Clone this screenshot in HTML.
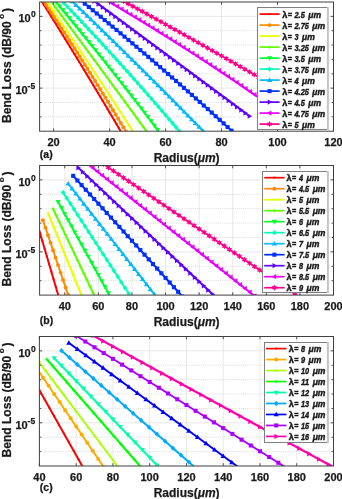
<!DOCTYPE html>
<html><head><meta charset="utf-8"><style>
html,body{margin:0;padding:0;background:#fff;}
svg{display:block;will-change:transform;}
text{font-family:"Liberation Sans",sans-serif;font-weight:bold;fill:#1a1a1a;stroke:#1a1a1a;stroke-width:0.25px;}
.tk{font-size:11px;}
.sup{font-size:8.5px;}
.lg{font-size:8.2px;font-style:italic;stroke-width:0.4px;}
.lgl{font-size:8.2px;stroke-width:0.4px;}
.al{font-size:12px;}
.pl{font-size:10.5px;}
</style></head><body>
<svg width="342" height="499" viewBox="0 0 342 499">
<clipPath id="ca"><rect x="39.60" y="2.00" width="293.90" height="129.20"/></clipPath>
<line x1="53.60" y1="2.00" x2="53.60" y2="131.20" stroke="#e2e2e2" stroke-width="0.8"/>
<line x1="109.58" y1="2.00" x2="109.58" y2="131.20" stroke="#e2e2e2" stroke-width="0.8"/>
<line x1="165.56" y1="2.00" x2="165.56" y2="131.20" stroke="#e2e2e2" stroke-width="0.8"/>
<line x1="221.54" y1="2.00" x2="221.54" y2="131.20" stroke="#e2e2e2" stroke-width="0.8"/>
<line x1="277.52" y1="2.00" x2="277.52" y2="131.20" stroke="#e2e2e2" stroke-width="0.8"/>
<line x1="39.60" y1="16.36" x2="333.50" y2="16.36" stroke="#e2e2e2" stroke-width="0.8"/>
<line x1="39.60" y1="30.71" x2="333.50" y2="30.71" stroke="#c8c8c8" stroke-width="0.8" stroke-dasharray="0.8 1.3"/>
<line x1="39.60" y1="45.07" x2="333.50" y2="45.07" stroke="#c8c8c8" stroke-width="0.8" stroke-dasharray="0.8 1.3"/>
<line x1="39.60" y1="59.42" x2="333.50" y2="59.42" stroke="#c8c8c8" stroke-width="0.8" stroke-dasharray="0.8 1.3"/>
<line x1="39.60" y1="73.78" x2="333.50" y2="73.78" stroke="#c8c8c8" stroke-width="0.8" stroke-dasharray="0.8 1.3"/>
<line x1="39.60" y1="88.13" x2="333.50" y2="88.13" stroke="#e2e2e2" stroke-width="0.8"/>
<line x1="39.60" y1="102.49" x2="333.50" y2="102.49" stroke="#c8c8c8" stroke-width="0.8" stroke-dasharray="0.8 1.3"/>
<line x1="39.60" y1="116.84" x2="333.50" y2="116.84" stroke="#c8c8c8" stroke-width="0.8" stroke-dasharray="0.8 1.3"/>
<g clip-path="url(#ca)"><polyline points="39.60,-2.05 39.63,-2.00 40.89,0.00 42.14,2.00 43.40,4.00 44.65,6.00 45.91,8.00 47.16,10.00 48.41,12.00 49.66,14.00 50.91,16.00 52.16,18.00 53.40,20.00 54.65,22.00 55.89,24.00 57.13,26.00 58.37,28.00 59.61,30.00 60.85,32.00 62.09,34.00 63.32,36.00 64.56,38.00 65.79,40.00 67.02,42.00 68.25,44.00 69.48,46.00 70.71,48.00 71.94,50.00 73.16,52.00 74.39,54.00 75.61,56.00 76.83,58.00 78.05,60.00 79.27,62.00 80.49,64.00 81.70,66.00 82.92,68.00 84.13,70.00 85.35,72.00 86.56,74.00 87.77,76.00 88.98,78.00 90.18,80.00 91.39,82.00 92.60,84.00 93.80,86.00 95.00,88.00 96.20,90.00 97.40,92.00 98.60,94.00 99.80,96.00 101.00,98.00 102.19,100.00 103.39,102.00 104.58,104.00 105.77,106.00 106.96,108.00 108.15,110.00 109.34,112.00 110.52,114.00 111.71,116.00 112.89,118.00 114.07,120.00 115.25,122.00 116.43,124.00 117.61,126.00 118.79,128.00 119.97,130.00 121.14,132.00 122.31,134.00 123.49,136.00 124.66,138.00 125.83,140.00 127.00,142.00 128.16,144.00 129.33,146.00 130.49,148.00 131.66,150.00 137.57,160.19" stroke="#ff0000" stroke-width="2.0" fill="none" stroke-linejoin="round"/><circle cx="41.93" cy="1.66" r="1.08" fill="#ff0000"/><circle cx="44.27" cy="5.38" r="1.08" fill="#ff0000"/><circle cx="46.60" cy="9.10" r="1.08" fill="#ff0000"/><circle cx="48.93" cy="12.83" r="1.08" fill="#ff0000"/><circle cx="51.26" cy="16.57" r="1.08" fill="#ff0000"/><circle cx="53.60" cy="20.31" r="1.08" fill="#ff0000"/><circle cx="55.93" cy="24.06" r="1.08" fill="#ff0000"/><circle cx="58.26" cy="27.82" r="1.08" fill="#ff0000"/><circle cx="60.59" cy="31.59" r="1.08" fill="#ff0000"/><circle cx="62.93" cy="35.36" r="1.08" fill="#ff0000"/><circle cx="65.26" cy="39.14" r="1.08" fill="#ff0000"/><circle cx="67.59" cy="42.93" r="1.08" fill="#ff0000"/><circle cx="69.92" cy="46.72" r="1.08" fill="#ff0000"/><circle cx="72.26" cy="50.52" r="1.08" fill="#ff0000"/><circle cx="74.59" cy="54.33" r="1.08" fill="#ff0000"/><circle cx="76.92" cy="58.15" r="1.08" fill="#ff0000"/><circle cx="79.25" cy="61.97" r="1.08" fill="#ff0000"/><circle cx="81.59" cy="65.81" r="1.08" fill="#ff0000"/><circle cx="83.92" cy="69.65" r="1.08" fill="#ff0000"/><circle cx="86.25" cy="73.49" r="1.08" fill="#ff0000"/><circle cx="88.58" cy="77.35" r="1.08" fill="#ff0000"/><circle cx="90.92" cy="81.21" r="1.08" fill="#ff0000"/><circle cx="93.25" cy="85.08" r="1.08" fill="#ff0000"/><circle cx="95.58" cy="88.96" r="1.08" fill="#ff0000"/><circle cx="97.91" cy="92.85" r="1.08" fill="#ff0000"/><circle cx="100.25" cy="96.74" r="1.08" fill="#ff0000"/><circle cx="102.58" cy="100.65" r="1.08" fill="#ff0000"/><circle cx="104.91" cy="104.56" r="1.08" fill="#ff0000"/><circle cx="107.24" cy="108.48" r="1.08" fill="#ff0000"/><circle cx="109.58" cy="112.41" r="1.08" fill="#ff0000"/><circle cx="111.91" cy="116.34" r="1.08" fill="#ff0000"/><circle cx="114.24" cy="120.28" r="1.08" fill="#ff0000"/><circle cx="116.57" cy="124.24" r="1.08" fill="#ff0000"/><circle cx="118.91" cy="128.20" r="1.08" fill="#ff0000"/><circle cx="121.24" cy="132.17" r="1.08" fill="#ff0000"/><polyline points="43.80,1.05 44.43,2.00 45.75,4.00 47.07,6.00 48.38,8.00 49.70,10.00 51.01,12.00 52.32,14.00 53.63,16.00 54.93,18.00 56.24,20.00 57.54,22.00 58.84,24.00 60.14,26.00 61.44,28.00 62.73,30.00 64.02,32.00 65.31,34.00 66.60,36.00 67.89,38.00 69.18,40.00 70.46,42.00 71.74,44.00 73.02,46.00 74.30,48.00 75.57,50.00 76.85,52.00 78.12,54.00 79.39,56.00 80.66,58.00 81.92,60.00 83.19,62.00 84.45,64.00 85.71,66.00 86.97,68.00 88.23,70.00 89.48,72.00 90.74,74.00 91.99,76.00 93.24,78.00 94.48,80.00 95.73,82.00 96.97,84.00 98.21,86.00 99.45,88.00 100.69,90.00 101.93,92.00 103.16,94.00 104.39,96.00 105.62,98.00 106.85,100.00 108.08,102.00 109.30,104.00 110.52,106.00 111.75,108.00 112.96,110.00 114.18,112.00 115.40,114.00 116.61,116.00 117.82,118.00 119.03,120.00 120.24,122.00 121.44,124.00 122.65,126.00 123.85,128.00 125.05,130.00 126.24,132.00 127.44,134.00 128.63,136.00 129.83,138.00 131.02,140.00 132.20,142.00 133.39,144.00 134.58,146.00 135.76,148.00 136.94,150.00 151.56,175.04" stroke="#ff8b00" stroke-width="2.0" fill="none" stroke-linejoin="round"/><circle cx="43.80" cy="1.05" r="1.97" fill="#ff8b00"/><circle cx="46.36" cy="4.94" r="1.97" fill="#ff8b00"/><circle cx="48.93" cy="8.83" r="1.97" fill="#ff8b00"/><circle cx="51.50" cy="12.75" r="1.97" fill="#ff8b00"/><circle cx="54.06" cy="16.67" r="1.97" fill="#ff8b00"/><circle cx="56.63" cy="20.60" r="1.97" fill="#ff8b00"/><circle cx="59.19" cy="24.54" r="1.97" fill="#ff8b00"/><circle cx="61.76" cy="28.50" r="1.97" fill="#ff8b00"/><circle cx="64.32" cy="32.47" r="1.97" fill="#ff8b00"/><circle cx="66.89" cy="36.45" r="1.97" fill="#ff8b00"/><circle cx="69.46" cy="40.44" r="1.97" fill="#ff8b00"/><circle cx="72.02" cy="44.44" r="1.97" fill="#ff8b00"/><circle cx="74.59" cy="48.45" r="1.97" fill="#ff8b00"/><circle cx="77.15" cy="52.48" r="1.97" fill="#ff8b00"/><circle cx="79.72" cy="56.52" r="1.97" fill="#ff8b00"/><circle cx="82.29" cy="60.57" r="1.97" fill="#ff8b00"/><circle cx="84.85" cy="64.63" r="1.97" fill="#ff8b00"/><circle cx="87.42" cy="68.71" r="1.97" fill="#ff8b00"/><circle cx="89.98" cy="72.80" r="1.97" fill="#ff8b00"/><circle cx="92.55" cy="76.90" r="1.97" fill="#ff8b00"/><circle cx="95.11" cy="81.01" r="1.97" fill="#ff8b00"/><circle cx="97.68" cy="85.14" r="1.97" fill="#ff8b00"/><circle cx="100.25" cy="89.28" r="1.97" fill="#ff8b00"/><circle cx="102.81" cy="93.43" r="1.97" fill="#ff8b00"/><circle cx="105.38" cy="97.60" r="1.97" fill="#ff8b00"/><circle cx="107.94" cy="101.78" r="1.97" fill="#ff8b00"/><circle cx="110.51" cy="105.97" r="1.97" fill="#ff8b00"/><circle cx="113.07" cy="110.18" r="1.97" fill="#ff8b00"/><circle cx="115.64" cy="114.40" r="1.97" fill="#ff8b00"/><circle cx="118.21" cy="118.64" r="1.97" fill="#ff8b00"/><circle cx="120.77" cy="122.89" r="1.97" fill="#ff8b00"/><circle cx="123.34" cy="127.15" r="1.97" fill="#ff8b00"/><circle cx="125.90" cy="131.43" r="1.97" fill="#ff8b00"/><polyline points="48.00,3.11 48.61,4.00 49.98,6.00 51.35,8.00 52.72,10.00 54.09,12.00 55.45,14.00 56.82,16.00 58.18,18.00 59.54,20.00 60.90,22.00 62.26,24.00 63.61,26.00 64.97,28.00 66.32,30.00 67.67,32.00 69.02,34.00 70.37,36.00 71.72,38.00 73.06,40.00 74.40,42.00 75.75,44.00 77.09,46.00 78.42,48.00 79.76,50.00 81.10,52.00 82.43,54.00 83.76,56.00 85.09,58.00 86.42,60.00 87.75,62.00 89.07,64.00 90.40,66.00 91.72,68.00 93.04,70.00 94.36,72.00 95.68,74.00 96.99,76.00 98.31,78.00 99.62,80.00 100.93,82.00 102.24,84.00 103.55,86.00 104.85,88.00 106.16,90.00 107.46,92.00 108.76,94.00 110.06,96.00 111.36,98.00 112.66,100.00 113.95,102.00 115.24,104.00 116.54,106.00 117.83,108.00 119.12,110.00 120.40,112.00 121.69,114.00 122.97,116.00 124.25,118.00 125.53,120.00 126.81,122.00 128.09,124.00 129.37,126.00 130.64,128.00 131.91,130.00 133.18,132.00 134.45,134.00 135.72,136.00 136.99,138.00 138.25,140.00 139.51,142.00 140.77,144.00 142.03,146.00 143.29,148.00 144.55,150.00 165.56,183.83" stroke="#e8ff00" stroke-width="2.0" fill="none" stroke-linejoin="round"/><path d="M46.68 1.79L49.32 4.43M46.68 4.43L49.32 1.79" stroke="#e8ff00" stroke-width="0.9" fill="none"/><path d="M49.48 5.87L52.12 8.51M49.48 8.51L52.12 5.87" stroke="#e8ff00" stroke-width="0.9" fill="none"/><path d="M52.28 9.96L54.92 12.60M52.28 12.60L54.92 9.96" stroke="#e8ff00" stroke-width="0.9" fill="none"/><path d="M55.07 14.06L57.71 16.70M55.07 16.70L57.71 14.06" stroke="#e8ff00" stroke-width="0.9" fill="none"/><path d="M57.87 18.17L60.51 20.81M57.87 20.81L60.51 18.17" stroke="#e8ff00" stroke-width="0.9" fill="none"/><path d="M60.67 22.29L63.31 24.93M60.67 24.93L63.31 22.29" stroke="#e8ff00" stroke-width="0.9" fill="none"/><path d="M63.47 26.42L66.11 29.06M63.47 29.06L66.11 26.42" stroke="#e8ff00" stroke-width="0.9" fill="none"/><path d="M66.27 30.56L68.91 33.20M66.27 33.20L68.91 30.56" stroke="#e8ff00" stroke-width="0.9" fill="none"/><path d="M69.07 34.71L71.71 37.35M69.07 37.35L71.71 34.71" stroke="#e8ff00" stroke-width="0.9" fill="none"/><path d="M71.87 38.87L74.51 41.51M71.87 41.51L74.51 38.87" stroke="#e8ff00" stroke-width="0.9" fill="none"/><path d="M74.67 43.04L77.31 45.68M74.67 45.68L77.31 43.04" stroke="#e8ff00" stroke-width="0.9" fill="none"/><path d="M77.47 47.22L80.11 49.86M77.47 49.86L80.11 47.22" stroke="#e8ff00" stroke-width="0.9" fill="none"/><path d="M80.27 51.42L82.91 54.06M80.27 54.06L82.91 51.42" stroke="#e8ff00" stroke-width="0.9" fill="none"/><path d="M83.06 55.62L85.70 58.26M83.06 58.26L85.70 55.62" stroke="#e8ff00" stroke-width="0.9" fill="none"/><path d="M85.86 59.83L88.50 62.47M85.86 62.47L88.50 59.83" stroke="#e8ff00" stroke-width="0.9" fill="none"/><path d="M88.66 64.06L91.30 66.70M88.66 66.70L91.30 64.06" stroke="#e8ff00" stroke-width="0.9" fill="none"/><path d="M91.46 68.29L94.10 70.93M91.46 70.93L94.10 68.29" stroke="#e8ff00" stroke-width="0.9" fill="none"/><path d="M94.26 72.54L96.90 75.18M94.26 75.18L96.90 72.54" stroke="#e8ff00" stroke-width="0.9" fill="none"/><path d="M97.06 76.79L99.70 79.43M97.06 79.43L99.70 76.79" stroke="#e8ff00" stroke-width="0.9" fill="none"/><path d="M99.86 81.06L102.50 83.70M99.86 83.70L102.50 81.06" stroke="#e8ff00" stroke-width="0.9" fill="none"/><path d="M102.66 85.34L105.30 87.98M102.66 87.98L105.30 85.34" stroke="#e8ff00" stroke-width="0.9" fill="none"/><path d="M105.46 89.63L108.10 92.27M105.46 92.27L108.10 89.63" stroke="#e8ff00" stroke-width="0.9" fill="none"/><path d="M108.26 93.93L110.90 96.57M108.26 96.57L110.90 93.93" stroke="#e8ff00" stroke-width="0.9" fill="none"/><path d="M111.06 98.25L113.70 100.89M111.06 100.89L113.70 98.25" stroke="#e8ff00" stroke-width="0.9" fill="none"/><path d="M113.85 102.57L116.49 105.21M113.85 105.21L116.49 102.57" stroke="#e8ff00" stroke-width="0.9" fill="none"/><path d="M116.65 106.91L119.29 109.55M116.65 109.55L119.29 106.91" stroke="#e8ff00" stroke-width="0.9" fill="none"/><path d="M119.45 111.26L122.09 113.90M119.45 113.90L122.09 111.26" stroke="#e8ff00" stroke-width="0.9" fill="none"/><path d="M122.25 115.62L124.89 118.26M122.25 118.26L124.89 115.62" stroke="#e8ff00" stroke-width="0.9" fill="none"/><path d="M125.05 119.99L127.69 122.63M125.05 122.63L127.69 119.99" stroke="#e8ff00" stroke-width="0.9" fill="none"/><path d="M127.85 124.37L130.49 127.01M127.85 127.01L130.49 124.37" stroke="#e8ff00" stroke-width="0.9" fill="none"/><path d="M130.65 128.77L133.29 131.41M130.65 131.41L133.29 128.77" stroke="#e8ff00" stroke-width="0.9" fill="none"/><path d="M133.45 133.18L136.09 135.82M133.45 135.82L136.09 133.18" stroke="#e8ff00" stroke-width="0.9" fill="none"/><polyline points="52.20,3.03 52.92,4.00 54.41,6.00 55.89,8.00 57.38,10.00 58.86,12.00 60.35,14.00 61.83,16.00 63.31,18.00 64.80,20.00 66.28,22.00 67.76,24.00 69.24,26.00 70.72,28.00 72.20,30.00 73.68,32.00 75.16,34.00 76.64,36.00 78.11,38.00 79.59,40.00 81.07,42.00 82.54,44.00 84.02,46.00 85.49,48.00 86.97,50.00 88.44,52.00 89.91,54.00 91.39,56.00 92.86,58.00 94.33,60.00 95.80,62.00 97.27,64.00 98.74,66.00 100.21,68.00 101.68,70.00 103.15,72.00 104.62,74.00 106.08,76.00 107.55,78.00 109.02,80.00 110.48,82.00 111.95,84.00 113.41,86.00 114.87,88.00 116.34,90.00 117.80,92.00 119.26,94.00 120.72,96.00 122.18,98.00 123.64,100.00 125.10,102.00 126.56,104.00 128.02,106.00 129.48,108.00 130.94,110.00 132.39,112.00 133.85,114.00 135.31,116.00 136.76,118.00 138.22,120.00 139.67,122.00 141.13,124.00 142.58,126.00 144.03,128.00 145.48,130.00 146.93,132.00 148.39,134.00 149.84,136.00 151.29,138.00 152.73,140.00 154.18,142.00 155.63,144.00 157.08,146.00 158.53,148.00 159.97,150.00 179.55,177.15" stroke="#5dff00" stroke-width="2.0" fill="none" stroke-linejoin="round"/><path d="M50.52 3.03L53.88 3.03M52.20 1.35L52.20 4.71" stroke="#5dff00" stroke-width="0.9" fill="none"/><path d="M53.55 7.11L56.91 7.11M55.23 5.43L55.23 8.79" stroke="#5dff00" stroke-width="0.9" fill="none"/><path d="M56.58 11.19L59.94 11.19M58.26 9.51L58.26 12.87" stroke="#5dff00" stroke-width="0.9" fill="none"/><path d="M59.61 15.28L62.97 15.28M61.29 13.60L61.29 16.96" stroke="#5dff00" stroke-width="0.9" fill="none"/><path d="M62.64 19.36L66.00 19.36M64.32 17.68L64.32 21.04" stroke="#5dff00" stroke-width="0.9" fill="none"/><path d="M65.68 23.46L69.04 23.46M67.36 21.78L67.36 25.14" stroke="#5dff00" stroke-width="0.9" fill="none"/><path d="M68.71 27.55L72.07 27.55M70.39 25.87L70.39 29.23" stroke="#5dff00" stroke-width="0.9" fill="none"/><path d="M71.74 31.65L75.10 31.65M73.42 29.97L73.42 33.33" stroke="#5dff00" stroke-width="0.9" fill="none"/><path d="M74.77 35.75L78.13 35.75M76.45 34.07L76.45 37.43" stroke="#5dff00" stroke-width="0.9" fill="none"/><path d="M77.81 39.86L81.17 39.86M79.49 38.18L79.49 41.54" stroke="#5dff00" stroke-width="0.9" fill="none"/><path d="M80.84 43.97L84.20 43.97M82.52 42.29L82.52 45.65" stroke="#5dff00" stroke-width="0.9" fill="none"/><path d="M83.87 48.08L87.23 48.08M85.55 46.40L85.55 49.76" stroke="#5dff00" stroke-width="0.9" fill="none"/><path d="M86.90 52.19L90.26 52.19M88.58 50.51L88.58 53.87" stroke="#5dff00" stroke-width="0.9" fill="none"/><path d="M89.94 56.31L93.30 56.31M91.62 54.63L91.62 57.99" stroke="#5dff00" stroke-width="0.9" fill="none"/><path d="M92.97 60.43L96.33 60.43M94.65 58.75L94.65 62.11" stroke="#5dff00" stroke-width="0.9" fill="none"/><path d="M96.00 64.56L99.36 64.56M97.68 62.88L97.68 66.24" stroke="#5dff00" stroke-width="0.9" fill="none"/><path d="M99.03 68.68L102.39 68.68M100.71 67.00L100.71 70.36" stroke="#5dff00" stroke-width="0.9" fill="none"/><path d="M102.06 72.81L105.42 72.81M103.74 71.13L103.74 74.49" stroke="#5dff00" stroke-width="0.9" fill="none"/><path d="M105.10 76.95L108.46 76.95M106.78 75.27L106.78 78.63" stroke="#5dff00" stroke-width="0.9" fill="none"/><path d="M108.13 81.08L111.49 81.08M109.81 79.40L109.81 82.76" stroke="#5dff00" stroke-width="0.9" fill="none"/><path d="M111.16 85.22L114.52 85.22M112.84 83.54L112.84 86.90" stroke="#5dff00" stroke-width="0.9" fill="none"/><path d="M114.19 89.37L117.55 89.37M115.87 87.69L115.87 91.05" stroke="#5dff00" stroke-width="0.9" fill="none"/><path d="M117.23 93.51L120.59 93.51M118.91 91.83L118.91 95.19" stroke="#5dff00" stroke-width="0.9" fill="none"/><path d="M120.26 97.66L123.62 97.66M121.94 95.98L121.94 99.34" stroke="#5dff00" stroke-width="0.9" fill="none"/><path d="M123.29 101.82L126.65 101.82M124.97 100.14L124.97 103.50" stroke="#5dff00" stroke-width="0.9" fill="none"/><path d="M126.32 105.97L129.68 105.97M128.00 104.29L128.00 107.65" stroke="#5dff00" stroke-width="0.9" fill="none"/><path d="M129.36 110.13L132.72 110.13M131.04 108.45L131.04 111.81" stroke="#5dff00" stroke-width="0.9" fill="none"/><path d="M132.39 114.30L135.75 114.30M134.07 112.62L134.07 115.98" stroke="#5dff00" stroke-width="0.9" fill="none"/><path d="M135.42 118.46L138.78 118.46M137.10 116.78L137.10 120.14" stroke="#5dff00" stroke-width="0.9" fill="none"/><path d="M138.45 122.63L141.81 122.63M140.13 120.95L140.13 124.31" stroke="#5dff00" stroke-width="0.9" fill="none"/><path d="M141.48 126.81L144.84 126.81M143.16 125.13L143.16 128.49" stroke="#5dff00" stroke-width="0.9" fill="none"/><path d="M144.52 130.98L147.88 130.98M146.20 129.30L146.20 132.66" stroke="#5dff00" stroke-width="0.9" fill="none"/><path d="M147.55 135.16L150.91 135.16M149.23 133.48L149.23 136.84" stroke="#5dff00" stroke-width="0.9" fill="none"/><polyline points="56.39,2.32 57.79,4.00 59.45,6.00 61.11,8.00 62.77,10.00 64.43,12.00 66.08,14.00 67.73,16.00 69.38,18.00 71.02,20.00 72.67,22.00 74.31,24.00 75.95,26.00 77.58,28.00 79.22,30.00 80.85,32.00 82.48,34.00 84.10,36.00 85.73,38.00 87.35,40.00 88.97,42.00 90.58,44.00 92.20,46.00 93.81,48.00 95.42,50.00 97.02,52.00 98.63,54.00 100.23,56.00 101.83,58.00 103.42,60.00 105.02,62.00 106.61,64.00 108.20,66.00 109.79,68.00 111.37,70.00 112.95,72.00 114.53,74.00 116.11,76.00 117.69,78.00 119.26,80.00 120.83,82.00 122.39,84.00 123.96,86.00 125.52,88.00 127.08,90.00 128.64,92.00 130.19,94.00 131.75,96.00 133.30,98.00 134.85,100.00 136.39,102.00 137.93,104.00 139.47,106.00 141.01,108.00 142.55,110.00 144.08,112.00 145.61,114.00 147.14,116.00 148.67,118.00 150.19,120.00 151.71,122.00 153.23,124.00 154.74,126.00 156.26,128.00 157.77,130.00 159.28,132.00 160.78,134.00 162.29,136.00 163.79,138.00 165.29,140.00 166.78,142.00 168.28,144.00 169.77,146.00 171.26,148.00 172.74,150.00 193.55,178.34" stroke="#00ff2e" stroke-width="2.0" fill="none" stroke-linejoin="round"/><path d="M53.75 0.48L59.03 0.48L56.39 4.96Z" fill="#00ff2e"/><path d="M57.02 4.40L62.30 4.40L59.66 8.89Z" fill="#00ff2e"/><path d="M60.29 8.34L65.57 8.34L62.93 12.83Z" fill="#00ff2e"/><path d="M63.55 12.29L68.83 12.29L66.19 16.78Z" fill="#00ff2e"/><path d="M66.82 16.25L72.10 16.25L69.46 20.74Z" fill="#00ff2e"/><path d="M70.08 20.22L75.36 20.22L72.72 24.71Z" fill="#00ff2e"/><path d="M73.35 24.20L78.63 24.20L75.99 28.69Z" fill="#00ff2e"/><path d="M76.61 28.20L81.89 28.20L79.25 32.69Z" fill="#00ff2e"/><path d="M79.88 32.21L85.16 32.21L82.52 36.69Z" fill="#00ff2e"/><path d="M83.14 36.22L88.42 36.22L85.78 40.71Z" fill="#00ff2e"/><path d="M86.41 40.26L91.69 40.26L89.05 44.74Z" fill="#00ff2e"/><path d="M89.68 44.30L94.96 44.30L92.32 48.79Z" fill="#00ff2e"/><path d="M92.94 48.36L98.22 48.36L95.58 52.84Z" fill="#00ff2e"/><path d="M96.21 52.43L101.49 52.43L98.85 56.91Z" fill="#00ff2e"/><path d="M99.47 56.51L104.75 56.51L102.11 61.00Z" fill="#00ff2e"/><path d="M102.74 60.60L108.02 60.60L105.38 65.09Z" fill="#00ff2e"/><path d="M106.00 64.71L111.28 64.71L108.64 69.20Z" fill="#00ff2e"/><path d="M109.27 68.83L114.55 68.83L111.91 73.32Z" fill="#00ff2e"/><path d="M112.53 72.96L117.81 72.96L115.17 77.45Z" fill="#00ff2e"/><path d="M115.80 77.11L121.08 77.11L118.44 81.60Z" fill="#00ff2e"/><path d="M119.07 81.27L124.35 81.27L121.71 85.76Z" fill="#00ff2e"/><path d="M122.33 85.45L127.61 85.45L124.97 89.93Z" fill="#00ff2e"/><path d="M125.60 89.63L130.88 89.63L128.24 94.12Z" fill="#00ff2e"/><path d="M128.86 93.84L134.14 93.84L131.50 98.32Z" fill="#00ff2e"/><path d="M132.13 98.05L137.41 98.05L134.77 102.54Z" fill="#00ff2e"/><path d="M135.39 102.28L140.67 102.28L138.03 106.77Z" fill="#00ff2e"/><path d="M138.66 106.52L143.94 106.52L141.30 111.01Z" fill="#00ff2e"/><path d="M141.92 110.78L147.20 110.78L144.56 115.27Z" fill="#00ff2e"/><path d="M145.19 115.06L150.47 115.06L147.83 119.54Z" fill="#00ff2e"/><path d="M148.46 119.34L153.74 119.34L151.10 123.83Z" fill="#00ff2e"/><path d="M151.72 123.65L157.00 123.65L154.36 128.13Z" fill="#00ff2e"/><path d="M154.99 127.96L160.27 127.96L157.63 132.45Z" fill="#00ff2e"/><path d="M158.25 132.30L163.53 132.30L160.89 136.78Z" fill="#00ff2e"/><polyline points="60.59,-0.41 60.98,0.00 62.90,2.00 64.81,4.00 66.72,6.00 68.62,8.00 70.52,10.00 72.42,12.00 74.32,14.00 76.21,16.00 78.10,18.00 79.98,20.00 81.86,22.00 83.74,24.00 85.61,26.00 87.48,28.00 89.35,30.00 91.21,32.00 93.07,34.00 94.93,36.00 96.78,38.00 98.63,40.00 100.48,42.00 102.32,44.00 104.16,46.00 106.00,48.00 107.83,50.00 109.66,52.00 111.48,54.00 113.31,56.00 115.13,58.00 116.94,60.00 118.75,62.00 120.56,64.00 122.36,66.00 124.17,68.00 125.96,70.00 127.76,72.00 129.55,74.00 131.34,76.00 133.12,78.00 134.90,80.00 136.68,82.00 138.45,84.00 140.22,86.00 141.99,88.00 143.75,90.00 145.51,92.00 147.27,94.00 149.02,96.00 150.77,98.00 152.52,100.00 154.26,102.00 156.00,104.00 157.73,106.00 159.46,108.00 161.19,110.00 162.92,112.00 164.64,114.00 166.36,116.00 168.07,118.00 169.78,120.00 171.49,122.00 173.20,124.00 174.90,126.00 176.59,128.00 178.29,130.00 179.98,132.00 181.67,134.00 183.35,136.00 185.03,138.00 186.71,140.00 188.38,142.00 190.05,144.00 191.72,146.00 193.38,148.00 195.04,150.00 207.54,165.21" stroke="#00ffb9" stroke-width="2.0" fill="none" stroke-linejoin="round"/><path d="M60.59 -3.05L62.87 -0.41L60.59 2.23L58.31 -0.41Z" fill="#00ffb9"/><path d="M64.09 0.61L66.37 3.25L64.09 5.89L61.81 3.25Z" fill="#00ffb9"/><path d="M67.59 4.28L69.87 6.92L67.59 9.56L65.31 6.92Z" fill="#00ffb9"/><path d="M71.09 7.95L73.37 10.59L71.09 13.23L68.81 10.59Z" fill="#00ffb9"/><path d="M74.59 11.65L76.87 14.29L74.59 16.93L72.31 14.29Z" fill="#00ffb9"/><path d="M78.09 15.35L80.37 17.99L78.09 20.63L75.81 17.99Z" fill="#00ffb9"/><path d="M81.59 19.07L83.87 21.71L81.59 24.35L79.31 21.71Z" fill="#00ffb9"/><path d="M85.08 22.80L87.36 25.44L85.08 28.08L82.80 25.44Z" fill="#00ffb9"/><path d="M88.58 26.54L90.86 29.18L88.58 31.82L86.30 29.18Z" fill="#00ffb9"/><path d="M92.08 30.29L94.36 32.93L92.08 35.57L89.80 32.93Z" fill="#00ffb9"/><path d="M95.58 34.06L97.86 36.70L95.58 39.34L93.30 36.70Z" fill="#00ffb9"/><path d="M99.08 37.84L101.36 40.48L99.08 43.12L96.80 40.48Z" fill="#00ffb9"/><path d="M102.58 41.64L104.86 44.28L102.58 46.92L100.30 44.28Z" fill="#00ffb9"/><path d="M106.08 45.45L108.36 48.09L106.08 50.73L103.80 48.09Z" fill="#00ffb9"/><path d="M109.58 49.27L111.86 51.91L109.58 54.55L107.30 51.91Z" fill="#00ffb9"/><path d="M113.07 53.11L115.35 55.75L113.07 58.39L110.79 55.75Z" fill="#00ffb9"/><path d="M116.57 56.96L118.85 59.60L116.57 62.24L114.29 59.60Z" fill="#00ffb9"/><path d="M120.07 60.82L122.35 63.46L120.07 66.10L117.79 63.46Z" fill="#00ffb9"/><path d="M123.57 64.70L125.85 67.34L123.57 69.98L121.29 67.34Z" fill="#00ffb9"/><path d="M127.07 68.59L129.35 71.23L127.07 73.87L124.79 71.23Z" fill="#00ffb9"/><path d="M130.57 72.50L132.85 75.14L130.57 77.78L128.29 75.14Z" fill="#00ffb9"/><path d="M134.07 76.42L136.35 79.06L134.07 81.70L131.79 79.06Z" fill="#00ffb9"/><path d="M137.57 80.36L139.85 83.00L137.57 85.64L135.29 83.00Z" fill="#00ffb9"/><path d="M141.07 84.31L143.35 86.95L141.07 89.59L138.79 86.95Z" fill="#00ffb9"/><path d="M144.56 88.28L146.84 90.92L144.56 93.56L142.28 90.92Z" fill="#00ffb9"/><path d="M148.06 92.27L150.34 94.91L148.06 97.55L145.78 94.91Z" fill="#00ffb9"/><path d="M151.56 96.27L153.84 98.91L151.56 101.55L149.28 98.91Z" fill="#00ffb9"/><path d="M155.06 100.28L157.34 102.92L155.06 105.56L152.78 102.92Z" fill="#00ffb9"/><path d="M158.56 104.31L160.84 106.95L158.56 109.59L156.28 106.95Z" fill="#00ffb9"/><path d="M162.06 108.36L164.34 111.00L162.06 113.64L159.78 111.00Z" fill="#00ffb9"/><path d="M165.56 112.43L167.84 115.07L165.56 117.71L163.28 115.07Z" fill="#00ffb9"/><path d="M169.06 116.51L171.34 119.15L169.06 121.79L166.78 119.15Z" fill="#00ffb9"/><path d="M172.55 120.61L174.83 123.25L172.55 125.89L170.27 123.25Z" fill="#00ffb9"/><path d="M176.05 124.72L178.33 127.36L176.05 130.00L173.77 127.36Z" fill="#00ffb9"/><path d="M179.55 128.86L181.83 131.50L179.55 134.14L177.27 131.50Z" fill="#00ffb9"/><polyline points="64.79,-5.67 66.54,-4.00 68.63,-2.00 70.72,0.00 72.81,2.00 74.89,4.00 76.97,6.00 79.05,8.00 81.13,10.00 83.21,12.00 85.28,14.00 87.36,16.00 89.43,18.00 91.49,20.00 93.56,22.00 95.62,24.00 97.69,26.00 99.75,28.00 101.81,30.00 103.86,32.00 105.92,34.00 107.97,36.00 110.02,38.00 112.07,40.00 114.11,42.00 116.16,44.00 118.20,46.00 120.24,48.00 122.28,50.00 124.31,52.00 126.35,54.00 128.38,56.00 130.41,58.00 132.44,60.00 134.46,62.00 136.48,64.00 138.51,66.00 140.53,68.00 142.54,70.00 144.56,72.00 146.57,74.00 148.58,76.00 150.59,78.00 152.60,80.00 154.61,82.00 156.61,84.00 158.61,86.00 160.61,88.00 162.61,90.00 164.60,92.00 166.60,94.00 168.59,96.00 170.58,98.00 172.56,100.00 174.55,102.00 176.53,104.00 178.51,106.00 180.49,108.00 182.47,110.00 184.44,112.00 186.42,114.00 188.39,116.00 190.36,118.00 192.32,120.00 194.29,122.00 196.25,124.00 198.21,126.00 200.17,128.00 202.13,130.00 204.08,132.00 206.04,134.00 207.99,136.00 209.93,138.00 211.88,140.00 213.83,142.00 215.77,144.00 217.71,146.00 219.65,148.00 221.54,149.95" stroke="#00b9ff" stroke-width="2.0" fill="none" stroke-linejoin="round"/><path d="M69.62 3.32L74.90 3.32L72.26 -1.17Z" fill="#00b9ff"/><path d="M73.35 6.90L78.63 6.90L75.99 2.41Z" fill="#00b9ff"/><path d="M77.08 10.49L82.36 10.49L79.72 6.00Z" fill="#00b9ff"/><path d="M80.81 14.08L86.09 14.08L83.45 9.59Z" fill="#00b9ff"/><path d="M84.54 17.68L89.82 17.68L87.18 13.19Z" fill="#00b9ff"/><path d="M88.28 21.29L93.56 21.29L90.92 16.80Z" fill="#00b9ff"/><path d="M92.01 24.90L97.29 24.90L94.65 20.41Z" fill="#00b9ff"/><path d="M95.74 28.52L101.02 28.52L98.38 24.03Z" fill="#00b9ff"/><path d="M99.47 32.15L104.75 32.15L102.11 27.66Z" fill="#00b9ff"/><path d="M103.20 35.78L108.48 35.78L105.84 31.29Z" fill="#00b9ff"/><path d="M106.94 39.42L112.22 39.42L109.58 34.93Z" fill="#00b9ff"/><path d="M110.67 43.06L115.95 43.06L113.31 38.57Z" fill="#00b9ff"/><path d="M114.40 46.71L119.68 46.71L117.04 42.23Z" fill="#00b9ff"/><path d="M118.13 50.37L123.41 50.37L120.77 45.88Z" fill="#00b9ff"/><path d="M121.86 54.04L127.14 54.04L124.50 49.55Z" fill="#00b9ff"/><path d="M125.60 57.71L130.88 57.71L128.24 53.22Z" fill="#00b9ff"/><path d="M129.33 61.39L134.61 61.39L131.97 56.90Z" fill="#00b9ff"/><path d="M133.06 65.07L138.34 65.07L135.70 60.58Z" fill="#00b9ff"/><path d="M136.79 68.77L142.07 68.77L139.43 64.28Z" fill="#00b9ff"/><path d="M140.52 72.46L145.80 72.46L143.16 67.98Z" fill="#00b9ff"/><path d="M144.26 76.17L149.54 76.17L146.90 71.68Z" fill="#00b9ff"/><path d="M147.99 79.88L153.27 79.88L150.63 75.39Z" fill="#00b9ff"/><path d="M151.72 83.60L157.00 83.60L154.36 79.11Z" fill="#00b9ff"/><path d="M155.45 87.33L160.73 87.33L158.09 82.84Z" fill="#00b9ff"/><path d="M159.19 91.06L164.47 91.06L161.83 86.58Z" fill="#00b9ff"/><path d="M162.92 94.80L168.20 94.80L165.56 90.32Z" fill="#00b9ff"/><path d="M166.65 98.55L171.93 98.55L169.29 94.07Z" fill="#00b9ff"/><path d="M170.38 102.31L175.66 102.31L173.02 97.82Z" fill="#00b9ff"/><path d="M174.11 106.07L179.39 106.07L176.75 101.58Z" fill="#00b9ff"/><path d="M177.85 109.84L183.13 109.84L180.49 105.35Z" fill="#00b9ff"/><path d="M181.58 113.62L186.86 113.62L184.22 109.13Z" fill="#00b9ff"/><path d="M185.31 117.40L190.59 117.40L187.95 112.91Z" fill="#00b9ff"/><path d="M189.04 121.19L194.32 121.19L191.68 116.71Z" fill="#00b9ff"/><path d="M192.77 124.99L198.05 124.99L195.41 120.51Z" fill="#00b9ff"/><path d="M196.51 128.80L201.79 128.80L199.15 124.31Z" fill="#00b9ff"/><path d="M200.24 132.62L205.52 132.62L202.88 128.13Z" fill="#00b9ff"/><path d="M203.97 136.44L209.25 136.44L206.61 131.95Z" fill="#00b9ff"/><polyline points="68.99,-9.25 70.53,-8.00 72.99,-6.00 75.44,-4.00 77.90,-2.00 80.34,0.00 82.79,2.00 85.23,4.00 87.67,6.00 90.10,8.00 92.53,10.00 94.95,12.00 97.37,14.00 99.79,16.00 102.20,18.00 104.61,20.00 107.01,22.00 109.41,24.00 111.81,26.00 114.20,28.00 116.59,30.00 118.97,32.00 121.35,34.00 123.73,36.00 126.10,38.00 128.47,40.00 130.83,42.00 133.19,44.00 135.55,46.00 137.90,48.00 140.25,50.00 142.59,52.00 144.93,54.00 147.26,56.00 149.59,58.00 151.92,60.00 154.24,62.00 156.56,64.00 158.88,66.00 161.19,68.00 163.50,70.00 165.80,72.00 168.10,74.00 170.39,76.00 172.68,78.00 174.97,80.00 177.25,82.00 179.53,84.00 181.81,86.00 184.08,88.00 186.34,90.00 188.61,92.00 190.86,94.00 193.12,96.00 195.37,98.00 197.61,100.00 199.86,102.00 202.09,104.00 204.33,106.00 206.56,108.00 208.78,110.00 211.01,112.00 213.22,114.00 215.44,116.00 217.65,118.00 219.85,120.00 222.06,122.00 224.25,124.00 226.45,126.00 228.64,128.00 230.82,130.00 233.00,132.00 235.18,134.00 235.53,134.33" stroke="#002eff" stroke-width="2.0" fill="none" stroke-linejoin="round"/><rect x="78.85" y="-1.60" width="4.08" height="4.08" fill="#002eff"/><rect x="82.81" y="1.65" width="4.08" height="4.08" fill="#002eff"/><rect x="86.78" y="4.91" width="4.08" height="4.08" fill="#002eff"/><rect x="90.74" y="8.17" width="4.08" height="4.08" fill="#002eff"/><rect x="94.71" y="11.44" width="4.08" height="4.08" fill="#002eff"/><rect x="98.67" y="14.73" width="4.08" height="4.08" fill="#002eff"/><rect x="102.64" y="18.02" width="4.08" height="4.08" fill="#002eff"/><rect x="106.60" y="21.32" width="4.08" height="4.08" fill="#002eff"/><rect x="110.57" y="24.63" width="4.08" height="4.08" fill="#002eff"/><rect x="114.53" y="27.95" width="4.08" height="4.08" fill="#002eff"/><rect x="118.50" y="31.28" width="4.08" height="4.08" fill="#002eff"/><rect x="122.46" y="34.61" width="4.08" height="4.08" fill="#002eff"/><rect x="126.43" y="37.96" width="4.08" height="4.08" fill="#002eff"/><rect x="130.40" y="41.32" width="4.08" height="4.08" fill="#002eff"/><rect x="134.36" y="44.69" width="4.08" height="4.08" fill="#002eff"/><rect x="138.33" y="48.06" width="4.08" height="4.08" fill="#002eff"/><rect x="142.29" y="51.45" width="4.08" height="4.08" fill="#002eff"/><rect x="146.26" y="54.85" width="4.08" height="4.08" fill="#002eff"/><rect x="150.22" y="58.25" width="4.08" height="4.08" fill="#002eff"/><rect x="154.19" y="61.67" width="4.08" height="4.08" fill="#002eff"/><rect x="158.15" y="65.10" width="4.08" height="4.08" fill="#002eff"/><rect x="162.12" y="68.53" width="4.08" height="4.08" fill="#002eff"/><rect x="166.08" y="71.98" width="4.08" height="4.08" fill="#002eff"/><rect x="170.05" y="75.44" width="4.08" height="4.08" fill="#002eff"/><rect x="174.01" y="78.91" width="4.08" height="4.08" fill="#002eff"/><rect x="177.98" y="82.39" width="4.08" height="4.08" fill="#002eff"/><rect x="181.94" y="85.88" width="4.08" height="4.08" fill="#002eff"/><rect x="185.91" y="89.38" width="4.08" height="4.08" fill="#002eff"/><rect x="189.87" y="92.89" width="4.08" height="4.08" fill="#002eff"/><rect x="193.84" y="96.42" width="4.08" height="4.08" fill="#002eff"/><rect x="197.81" y="99.95" width="4.08" height="4.08" fill="#002eff"/><rect x="201.77" y="103.50" width="4.08" height="4.08" fill="#002eff"/><rect x="205.74" y="107.05" width="4.08" height="4.08" fill="#002eff"/><rect x="209.70" y="110.62" width="4.08" height="4.08" fill="#002eff"/><rect x="213.67" y="114.20" width="4.08" height="4.08" fill="#002eff"/><rect x="217.63" y="117.80" width="4.08" height="4.08" fill="#002eff"/><rect x="221.60" y="121.40" width="4.08" height="4.08" fill="#002eff"/><rect x="225.56" y="125.02" width="4.08" height="4.08" fill="#002eff"/><rect x="229.53" y="128.64" width="4.08" height="4.08" fill="#002eff"/><rect x="233.49" y="132.29" width="4.08" height="4.08" fill="#002eff"/><polyline points="73.19,-14.57 73.95,-14.00 76.64,-12.00 79.33,-10.00 82.03,-8.00 84.72,-6.00 87.41,-4.00 90.10,-2.00 92.79,0.00 95.49,2.00 98.18,4.00 100.87,6.00 103.56,8.00 106.26,10.00 108.95,12.00 111.64,14.00 114.34,16.00 117.03,18.00 119.73,20.00 122.42,22.00 125.11,24.00 127.81,26.00 130.50,28.00 133.20,30.00 135.89,32.00 138.59,34.00 141.28,36.00 143.98,38.00 146.68,40.00 149.37,42.00 152.07,44.00 154.76,46.00 157.46,48.00 160.16,50.00 162.85,52.00 165.55,54.00 168.25,56.00 170.94,58.00 173.64,60.00 176.34,62.00 179.04,64.00 181.74,66.00 184.43,68.00 187.13,70.00 189.83,72.00 192.53,74.00 195.23,76.00 197.93,78.00 200.63,80.00 203.33,82.00 206.03,84.00 208.73,86.00 211.43,88.00 214.13,90.00 216.83,92.00 219.53,94.00 222.23,96.00 224.93,98.00 227.63,100.00 230.33,102.00 233.03,104.00 235.73,106.00 238.43,108.00 241.14,110.00 243.84,112.00 246.54,114.00 249.24,116.00 249.53,116.21" stroke="#5d00ff" stroke-width="2.0" fill="none" stroke-linejoin="round"/><path d="M92.33 -1.61L92.33 3.67L96.82 1.03Z" fill="#5d00ff"/><path d="M96.53 1.51L96.53 6.79L101.02 4.15Z" fill="#5d00ff"/><path d="M100.73 4.63L100.73 9.91L105.22 7.27Z" fill="#5d00ff"/><path d="M104.93 7.75L104.93 13.03L109.42 10.39Z" fill="#5d00ff"/><path d="M109.13 10.86L109.13 16.14L113.62 13.50Z" fill="#5d00ff"/><path d="M113.33 13.98L113.33 19.26L117.81 16.62Z" fill="#5d00ff"/><path d="M117.52 17.10L117.52 22.38L122.01 19.74Z" fill="#5d00ff"/><path d="M121.72 20.21L121.72 25.49L126.21 22.85Z" fill="#5d00ff"/><path d="M125.92 23.33L125.92 28.61L130.41 25.97Z" fill="#5d00ff"/><path d="M130.12 26.45L130.12 31.73L134.61 29.09Z" fill="#5d00ff"/><path d="M134.32 29.56L134.32 34.84L138.81 32.20Z" fill="#5d00ff"/><path d="M138.52 32.68L138.52 37.96L143.01 35.32Z" fill="#5d00ff"/><path d="M142.72 35.79L142.72 41.07L147.20 38.43Z" fill="#5d00ff"/><path d="M146.91 38.91L146.91 44.19L151.40 41.55Z" fill="#5d00ff"/><path d="M151.11 42.02L151.11 47.30L155.60 44.66Z" fill="#5d00ff"/><path d="M155.31 45.14L155.31 50.42L159.80 47.78Z" fill="#5d00ff"/><path d="M159.51 48.25L159.51 53.53L164.00 50.89Z" fill="#5d00ff"/><path d="M163.71 51.37L163.71 56.65L168.20 54.01Z" fill="#5d00ff"/><path d="M167.91 54.48L167.91 59.76L172.40 57.12Z" fill="#5d00ff"/><path d="M172.11 57.59L172.11 62.87L176.59 60.23Z" fill="#5d00ff"/><path d="M176.30 60.70L176.30 65.98L180.79 63.34Z" fill="#5d00ff"/><path d="M180.50 63.82L180.50 69.10L184.99 66.46Z" fill="#5d00ff"/><path d="M184.70 66.93L184.70 72.21L189.19 69.57Z" fill="#5d00ff"/><path d="M188.90 70.04L188.90 75.32L193.39 72.68Z" fill="#5d00ff"/><path d="M193.10 73.15L193.10 78.43L197.59 75.79Z" fill="#5d00ff"/><path d="M197.30 76.26L197.30 81.54L201.79 78.90Z" fill="#5d00ff"/><path d="M201.50 79.37L201.50 84.65L205.98 82.01Z" fill="#5d00ff"/><path d="M205.69 82.48L205.69 87.76L210.18 85.12Z" fill="#5d00ff"/><path d="M209.89 85.59L209.89 90.87L214.38 88.23Z" fill="#5d00ff"/><path d="M214.09 88.70L214.09 93.98L218.58 91.34Z" fill="#5d00ff"/><path d="M218.29 91.81L218.29 97.09L222.78 94.45Z" fill="#5d00ff"/><path d="M222.49 94.92L222.49 100.20L226.98 97.56Z" fill="#5d00ff"/><path d="M226.69 98.03L226.69 103.31L231.18 100.67Z" fill="#5d00ff"/><path d="M230.89 101.14L230.89 106.42L235.37 103.78Z" fill="#5d00ff"/><path d="M235.08 104.25L235.08 109.53L239.57 106.89Z" fill="#5d00ff"/><path d="M239.28 107.36L239.28 112.64L243.77 110.00Z" fill="#5d00ff"/><path d="M243.48 110.46L243.48 115.74L247.97 113.10Z" fill="#5d00ff"/><path d="M247.68 113.57L247.68 118.85L252.17 116.21Z" fill="#5d00ff"/><polyline points="77.39,-16.73 78.67,-16.00 82.17,-14.00 85.65,-12.00 89.12,-10.00 92.58,-8.00 96.03,-6.00 99.46,-4.00 102.89,-2.00 106.30,0.00 109.70,2.00 113.09,4.00 116.47,6.00 119.83,8.00 123.19,10.00 126.53,12.00 129.86,14.00 133.18,16.00 136.49,18.00 139.79,20.00 143.07,22.00 146.35,24.00 149.61,26.00 152.86,28.00 156.10,30.00 159.33,32.00 162.54,34.00 165.75,36.00 168.94,38.00 172.12,40.00 175.29,42.00 178.45,44.00 181.59,46.00 184.73,48.00 187.85,50.00 190.96,52.00 194.06,54.00 197.15,56.00 200.23,58.00 203.29,60.00 206.35,62.00 209.39,64.00 212.42,66.00 215.44,68.00 218.44,70.00 221.44,72.00 224.42,74.00 227.39,76.00 230.36,78.00 233.30,80.00 236.24,82.00 239.17,84.00 242.08,86.00 244.98,88.00 247.88,90.00 250.75,92.00 253.62,94.00 256.48,96.00 259.32,98.00 262.16,100.00 263.52,100.97" stroke="#e800ff" stroke-width="2.0" fill="none" stroke-linejoin="round"/><path d="M105.83 -4.00L105.83 1.28L101.34 -1.36Z" fill="#e800ff"/><path d="M110.26 -1.40L110.26 3.88L105.77 1.24Z" fill="#e800ff"/><path d="M114.69 1.21L114.69 6.49L110.20 3.85Z" fill="#e800ff"/><path d="M119.12 3.84L119.12 9.12L114.63 6.48Z" fill="#e800ff"/><path d="M123.55 6.47L123.55 11.75L119.07 9.11Z" fill="#e800ff"/><path d="M127.99 9.12L127.99 14.40L123.50 11.76Z" fill="#e800ff"/><path d="M132.42 11.78L132.42 17.06L127.93 14.42Z" fill="#e800ff"/><path d="M136.85 14.46L136.85 19.74L132.36 17.10Z" fill="#e800ff"/><path d="M141.28 17.14L141.28 22.42L136.79 19.78Z" fill="#e800ff"/><path d="M145.71 19.84L145.71 25.12L141.22 22.48Z" fill="#e800ff"/><path d="M150.14 22.55L150.14 27.83L145.66 25.19Z" fill="#e800ff"/><path d="M154.58 25.28L154.58 30.56L150.09 27.92Z" fill="#e800ff"/><path d="M159.01 28.02L159.01 33.30L154.52 30.66Z" fill="#e800ff"/><path d="M163.44 30.77L163.44 36.05L158.95 33.41Z" fill="#e800ff"/><path d="M167.87 33.53L167.87 38.81L163.38 36.17Z" fill="#e800ff"/><path d="M172.30 36.31L172.30 41.59L167.82 38.95Z" fill="#e800ff"/><path d="M176.74 39.11L176.74 44.39L172.25 41.75Z" fill="#e800ff"/><path d="M181.17 41.91L181.17 47.19L176.68 44.55Z" fill="#e800ff"/><path d="M185.60 44.74L185.60 50.02L181.11 47.38Z" fill="#e800ff"/><path d="M190.03 47.57L190.03 52.85L185.54 50.21Z" fill="#e800ff"/><path d="M194.46 50.42L194.46 55.70L189.97 53.06Z" fill="#e800ff"/><path d="M198.89 53.29L198.89 58.57L194.41 55.93Z" fill="#e800ff"/><path d="M203.33 56.18L203.33 61.46L198.84 58.82Z" fill="#e800ff"/><path d="M207.76 59.07L207.76 64.35L203.27 61.71Z" fill="#e800ff"/><path d="M212.19 61.99L212.19 67.27L207.70 64.63Z" fill="#e800ff"/><path d="M216.62 64.92L216.62 70.20L212.13 67.56Z" fill="#e800ff"/><path d="M221.05 67.87L221.05 73.15L216.57 70.51Z" fill="#e800ff"/><path d="M225.49 70.83L225.49 76.11L221.00 73.47Z" fill="#e800ff"/><path d="M229.92 73.82L229.92 79.10L225.43 76.46Z" fill="#e800ff"/><path d="M234.35 76.81L234.35 82.09L229.86 79.45Z" fill="#e800ff"/><path d="M238.78 79.83L238.78 85.11L234.29 82.47Z" fill="#e800ff"/><path d="M243.21 82.87L243.21 88.15L238.72 85.51Z" fill="#e800ff"/><path d="M247.64 85.92L247.64 91.20L243.16 88.56Z" fill="#e800ff"/><path d="M252.08 88.99L252.08 94.27L247.59 91.63Z" fill="#e800ff"/><path d="M256.51 92.09L256.51 97.37L252.02 94.73Z" fill="#e800ff"/><path d="M260.94 95.20L260.94 100.48L256.45 97.84Z" fill="#e800ff"/><path d="M265.37 98.33L265.37 103.61L260.88 100.97Z" fill="#e800ff"/><polyline points="81.59,-21.73 88.48,-18.00 92.17,-16.00 95.85,-14.00 99.53,-12.00 103.21,-10.00 106.88,-8.00 110.54,-6.00 114.20,-4.00 117.86,-2.00 121.51,0.00 125.15,2.00 128.79,4.00 132.43,6.00 136.06,8.00 139.69,10.00 143.31,12.00 146.92,14.00 150.54,16.00 154.14,18.00 157.74,20.00 161.34,22.00 164.93,24.00 168.52,26.00 172.10,28.00 175.68,30.00 179.25,32.00 182.82,34.00 186.38,36.00 189.94,38.00 193.50,40.00 197.04,42.00 200.59,44.00 204.13,46.00 207.66,48.00 211.19,50.00 214.71,52.00 218.23,54.00 221.75,56.00 225.26,58.00 228.76,60.00 232.26,62.00 235.76,64.00 239.25,66.00 242.73,68.00 246.21,70.00 249.69,72.00 253.16,74.00 256.63,76.00 260.09,78.00 263.54,80.00 266.99,82.00 270.44,84.00 273.88,86.00 277.32,88.00 277.52,88.12" stroke="#ff008b" stroke-width="2.0" fill="none" stroke-linejoin="round"/><path d="M118.91 -4.55L119.75 -2.88L121.61 -2.99L120.59 -1.43L121.61 0.13L119.75 0.03L118.91 1.69L118.07 0.03L116.20 0.13L117.23 -1.43L116.20 -2.99L118.07 -2.88Z" fill="#ff008b"/><path d="M123.57 -1.99L124.41 -0.32L126.27 -0.43L125.25 1.13L126.27 2.69L124.41 2.59L123.57 4.25L122.73 2.59L120.87 2.69L121.89 1.13L120.87 -0.43L122.73 -0.32Z" fill="#ff008b"/><path d="M128.24 0.57L129.08 2.24L130.94 2.13L129.92 3.69L130.94 5.25L129.08 5.15L128.24 6.81L127.40 5.15L125.53 5.25L126.56 3.69L125.53 2.13L127.40 2.24Z" fill="#ff008b"/><path d="M132.90 3.14L133.74 4.80L135.60 4.70L134.58 6.26L135.60 7.82L133.74 7.71L132.90 9.38L132.06 7.71L130.20 7.82L131.22 6.26L130.20 4.70L132.06 4.80Z" fill="#ff008b"/><path d="M137.57 5.71L138.41 7.38L140.27 7.27L139.25 8.83L140.27 10.39L138.41 10.29L137.57 11.95L136.73 10.29L134.86 10.39L135.89 8.83L134.86 7.27L136.73 7.38Z" fill="#ff008b"/><path d="M142.23 8.29L143.07 9.95L144.93 9.85L143.91 11.41L144.93 12.97L143.07 12.86L142.23 14.53L141.39 12.86L139.53 12.97L140.55 11.41L139.53 9.85L141.39 9.95Z" fill="#ff008b"/><path d="M146.90 10.86L147.74 12.53L149.60 12.42L148.58 13.98L149.60 15.54L147.74 15.44L146.90 17.10L146.06 15.44L144.19 15.54L145.22 13.98L144.19 12.42L146.06 12.53Z" fill="#ff008b"/><path d="M151.56 13.45L152.40 15.11L154.26 15.01L153.24 16.57L154.26 18.13L152.40 18.02L151.56 19.69L150.72 18.02L148.86 18.13L149.88 16.57L148.86 15.01L150.72 15.11Z" fill="#ff008b"/><path d="M156.23 16.04L157.07 17.70L158.93 17.60L157.91 19.16L158.93 20.72L157.07 20.61L156.23 22.28L155.39 20.61L153.52 20.72L154.55 19.16L153.52 17.60L155.39 17.70Z" fill="#ff008b"/><path d="M160.89 18.63L161.73 20.30L163.59 20.19L162.57 21.75L163.59 23.31L161.73 23.21L160.89 24.87L160.05 23.21L158.19 23.31L159.21 21.75L158.19 20.19L160.05 20.30Z" fill="#ff008b"/><path d="M165.56 21.23L166.40 22.89L168.26 22.79L167.24 24.35L168.26 25.91L166.40 25.80L165.56 27.47L164.72 25.80L162.86 25.91L163.88 24.35L162.86 22.79L164.72 22.89Z" fill="#ff008b"/><path d="M170.22 23.83L171.06 25.49L172.92 25.39L171.90 26.95L172.92 28.51L171.06 28.40L170.22 30.07L169.38 28.40L167.52 28.51L168.54 26.95L167.52 25.39L169.38 25.49Z" fill="#ff008b"/><path d="M174.89 26.44L175.73 28.10L177.59 28.00L176.57 29.56L177.59 31.12L175.73 31.01L174.89 32.68L174.05 31.01L172.19 31.12L173.21 29.56L172.19 28.00L174.05 28.10Z" fill="#ff008b"/><path d="M179.55 29.05L180.39 30.71L182.25 30.61L181.23 32.17L182.25 33.73L180.39 33.62L179.55 35.29L178.71 33.62L176.85 33.73L177.87 32.17L176.85 30.61L178.71 30.71Z" fill="#ff008b"/><path d="M184.22 31.66L185.06 33.33L186.92 33.22L185.90 34.78L186.92 36.34L185.06 36.24L184.22 37.90L183.38 36.24L181.52 36.34L182.54 34.78L181.52 33.22L183.38 33.33Z" fill="#ff008b"/><path d="M188.88 34.28L189.72 35.95L191.58 35.84L190.56 37.40L191.58 38.96L189.72 38.86L188.88 40.52L188.04 38.86L186.18 38.96L187.20 37.40L186.18 35.84L188.04 35.95Z" fill="#ff008b"/><path d="M193.55 36.91L194.39 38.57L196.25 38.47L195.23 40.03L196.25 41.59L194.39 41.48L193.55 43.15L192.71 41.48L190.85 41.59L191.87 40.03L190.85 38.47L192.71 38.57Z" fill="#ff008b"/><path d="M198.21 39.54L199.05 41.20L200.91 41.10L199.89 42.66L200.91 44.22L199.05 44.11L198.21 45.78L197.37 44.11L195.51 44.22L196.53 42.66L195.51 41.10L197.37 41.20Z" fill="#ff008b"/><path d="M202.88 42.17L203.72 43.84L205.58 43.73L204.56 45.29L205.58 46.85L203.72 46.75L202.88 48.41L202.04 46.75L200.18 46.85L201.20 45.29L200.18 43.73L202.04 43.84Z" fill="#ff008b"/><path d="M207.54 44.81L208.38 46.48L210.24 46.37L209.22 47.93L210.24 49.49L208.38 49.39L207.54 51.05L206.70 49.39L204.84 49.49L205.86 47.93L204.84 46.37L206.70 46.48Z" fill="#ff008b"/><path d="M212.21 47.46L213.05 49.12L214.91 49.02L213.89 50.58L214.91 52.14L213.05 52.03L212.21 53.70L211.37 52.03L209.51 52.14L210.53 50.58L209.51 49.02L211.37 49.12Z" fill="#ff008b"/><path d="M216.87 50.11L217.71 51.77L219.58 51.67L218.55 53.23L219.58 54.79L217.71 54.68L216.87 56.35L216.03 54.68L214.17 54.79L215.19 53.23L214.17 51.67L216.03 51.77Z" fill="#ff008b"/><path d="M221.54 52.76L222.38 54.43L224.24 54.32L223.22 55.88L224.24 57.44L222.38 57.34L221.54 59.00L220.70 57.34L218.84 57.44L219.86 55.88L218.84 54.32L220.70 54.43Z" fill="#ff008b"/><path d="M226.20 55.42L227.04 57.08L228.91 56.98L227.88 58.54L228.91 60.10L227.04 59.99L226.20 61.66L225.36 59.99L223.50 60.10L224.52 58.54L223.50 56.98L225.36 57.08Z" fill="#ff008b"/><path d="M230.87 58.08L231.71 59.75L233.57 59.64L232.55 61.20L233.57 62.76L231.71 62.66L230.87 64.32L230.03 62.66L228.17 62.76L229.19 61.20L228.17 59.64L230.03 59.75Z" fill="#ff008b"/><path d="M235.53 60.75L236.37 62.42L238.24 62.31L237.21 63.87L238.24 65.43L236.37 65.33L235.53 66.99L234.69 65.33L232.83 65.43L233.85 63.87L232.83 62.31L234.69 62.42Z" fill="#ff008b"/><path d="M240.20 63.43L241.04 65.09L242.90 64.99L241.88 66.55L242.90 68.11L241.04 68.00L240.20 69.67L239.36 68.00L237.50 68.11L238.52 66.55L237.50 64.99L239.36 65.09Z" fill="#ff008b"/><path d="M244.86 66.10L245.70 67.77L247.57 67.66L246.54 69.22L247.57 70.78L245.70 70.68L244.86 72.34L244.02 70.68L242.16 70.78L243.18 69.22L242.16 67.66L244.02 67.77Z" fill="#ff008b"/><path d="M249.53 68.79L250.37 70.45L252.23 70.35L251.21 71.91L252.23 73.47L250.37 73.36L249.53 75.03L248.69 73.36L246.83 73.47L247.85 71.91L246.83 70.35L248.69 70.45Z" fill="#ff008b"/><path d="M254.19 71.48L255.03 73.14L256.90 73.04L255.87 74.60L256.90 76.16L255.03 76.05L254.19 77.72L253.35 76.05L251.49 76.16L252.51 74.60L251.49 73.04L253.35 73.14Z" fill="#ff008b"/><path d="M258.86 74.17L259.70 75.84L261.56 75.73L260.54 77.29L261.56 78.85L259.70 78.74L258.86 80.41L258.02 78.74L256.16 78.85L257.18 77.29L256.16 75.73L258.02 75.84Z" fill="#ff008b"/><path d="M263.52 76.87L264.36 78.53L266.23 78.43L265.20 79.99L266.23 81.55L264.36 81.44L263.52 83.11L262.68 81.44L260.82 81.55L261.84 79.99L260.82 78.43L262.68 78.53Z" fill="#ff008b"/><path d="M268.19 79.57L269.03 81.24L270.89 81.13L269.87 82.69L270.89 84.25L269.03 84.15L268.19 85.81L267.35 84.15L265.49 84.25L266.51 82.69L265.49 81.13L267.35 81.24Z" fill="#ff008b"/><path d="M272.85 82.28L273.69 83.95L275.56 83.84L274.53 85.40L275.56 86.96L273.69 86.86L272.85 88.52L272.01 86.86L270.15 86.96L271.17 85.40L270.15 83.84L272.01 83.95Z" fill="#ff008b"/><path d="M277.52 85.00L278.36 86.66L280.22 86.56L279.20 88.12L280.22 89.68L278.36 89.57L277.52 91.24L276.68 89.57L274.82 89.68L275.84 88.12L274.82 86.56L276.68 86.66Z" fill="#ff008b"/></g>
<rect x="39.60" y="2.00" width="293.90" height="129.20" fill="none" stroke="#404040" stroke-width="1"/>
<path d="M53.60 131.20v-2.8M53.60 2.00v2.8M109.58 131.20v-2.8M109.58 2.00v2.8M165.56 131.20v-2.8M165.56 2.00v2.8M221.54 131.20v-2.8M221.54 2.00v2.8M277.52 131.20v-2.8M277.52 2.00v2.8M333.50 131.20v-2.8M333.50 2.00v2.8M39.60 16.36h2.80M333.50 16.36h-2.80M39.60 30.71h1.80M333.50 30.71h-1.80M39.60 45.07h1.80M333.50 45.07h-1.80M39.60 59.42h1.80M333.50 59.42h-1.80M39.60 73.78h1.80M333.50 73.78h-1.80M39.60 88.13h2.80M333.50 88.13h-2.80M39.60 102.49h1.80M333.50 102.49h-1.80M39.60 116.84h1.80M333.50 116.84h-1.80" stroke="#404040" stroke-width="0.9" fill="none"/>
<text x="53.60" y="145.90" text-anchor="middle" class="tk">20</text>
<text x="109.58" y="145.90" text-anchor="middle" class="tk">40</text>
<text x="165.56" y="145.90" text-anchor="middle" class="tk">60</text>
<text x="221.54" y="145.90" text-anchor="middle" class="tk">80</text>
<text x="277.52" y="145.90" text-anchor="middle" class="tk">100</text>
<text x="333.50" y="145.90" text-anchor="middle" class="tk">120</text>
<text x="18.50" y="22.26" class="tk">10</text><text x="30.90" y="17.36" class="sup">0</text>
<text x="15.40" y="94.03" class="tk">10</text><text x="27.60" y="89.13" class="sup">-5</text>
<rect x="257.50" y="7.50" width="71.00" height="122.00" fill="#fff"/>
<path d="M257.00 7.50H327.50M257.50 7.50V129.50M257.00 129.50H327.50" stroke="#808080" stroke-width="1" fill="none"/>
<line x1="327.90" y1="7.00" x2="327.90" y2="130.00" stroke="#c4c4c4" stroke-width="2"/>
<line x1="259.50" y1="14.10" x2="279.60" y2="14.10" stroke="#ff0000" stroke-width="1.7"/>
<circle cx="269.55" cy="14.10" r="1.08" fill="#ff0000"/>
<text x="282.20" y="17.70" class="lgl" textLength="5.1" lengthAdjust="spacingAndGlyphs">&#955;</text>
<text x="287.70" y="17.70" class="lgl" textLength="4.3" lengthAdjust="spacingAndGlyphs">=</text>
<text x="294.50" y="17.70" class="lg" textLength="10.26" lengthAdjust="spacingAndGlyphs">2.5</text>
<text x="308.26" y="17.70" class="lg" textLength="12.8" lengthAdjust="spacingAndGlyphs">&#956;m</text>
<line x1="259.50" y1="25.10" x2="279.60" y2="25.10" stroke="#ff8b00" stroke-width="1.7"/>
<circle cx="269.55" cy="25.10" r="1.97" fill="#ff8b00"/>
<text x="282.20" y="28.70" class="lgl" textLength="5.1" lengthAdjust="spacingAndGlyphs">&#955;</text>
<text x="287.70" y="28.70" class="lgl" textLength="4.3" lengthAdjust="spacingAndGlyphs">=</text>
<text x="294.50" y="28.70" class="lg" textLength="14.36" lengthAdjust="spacingAndGlyphs">2.75</text>
<text x="312.36" y="28.70" class="lg" textLength="12.8" lengthAdjust="spacingAndGlyphs">&#956;m</text>
<line x1="259.50" y1="36.10" x2="279.60" y2="36.10" stroke="#e8ff00" stroke-width="1.7"/>
<path d="M268.23 34.78L270.87 37.42M268.23 37.42L270.87 34.78" stroke="#e8ff00" stroke-width="0.9" fill="none"/>
<text x="282.20" y="39.70" class="lgl" textLength="5.1" lengthAdjust="spacingAndGlyphs">&#955;</text>
<text x="287.70" y="39.70" class="lgl" textLength="4.3" lengthAdjust="spacingAndGlyphs">=</text>
<text x="294.50" y="39.70" class="lg" textLength="4.10" lengthAdjust="spacingAndGlyphs">3</text>
<text x="302.10" y="39.70" class="lg" textLength="12.8" lengthAdjust="spacingAndGlyphs">&#956;m</text>
<line x1="259.50" y1="47.10" x2="279.60" y2="47.10" stroke="#5dff00" stroke-width="1.7"/>
<path d="M267.87 47.10L271.23 47.10M269.55 45.42L269.55 48.78" stroke="#5dff00" stroke-width="0.9" fill="none"/>
<text x="282.20" y="50.70" class="lgl" textLength="5.1" lengthAdjust="spacingAndGlyphs">&#955;</text>
<text x="287.70" y="50.70" class="lgl" textLength="4.3" lengthAdjust="spacingAndGlyphs">=</text>
<text x="294.50" y="50.70" class="lg" textLength="14.36" lengthAdjust="spacingAndGlyphs">3.25</text>
<text x="312.36" y="50.70" class="lg" textLength="12.8" lengthAdjust="spacingAndGlyphs">&#956;m</text>
<line x1="259.50" y1="58.10" x2="279.60" y2="58.10" stroke="#00ff2e" stroke-width="1.7"/>
<path d="M266.91 56.25L272.19 56.25L269.55 60.74Z" fill="#00ff2e"/>
<text x="282.20" y="61.70" class="lgl" textLength="5.1" lengthAdjust="spacingAndGlyphs">&#955;</text>
<text x="287.70" y="61.70" class="lgl" textLength="4.3" lengthAdjust="spacingAndGlyphs">=</text>
<text x="294.50" y="61.70" class="lg" textLength="10.26" lengthAdjust="spacingAndGlyphs">3.5</text>
<text x="308.26" y="61.70" class="lg" textLength="12.8" lengthAdjust="spacingAndGlyphs">&#956;m</text>
<line x1="259.50" y1="69.10" x2="279.60" y2="69.10" stroke="#00ffb9" stroke-width="1.7"/>
<path d="M269.55 66.46L271.83 69.10L269.55 71.74L267.27 69.10Z" fill="#00ffb9"/>
<text x="282.20" y="72.70" class="lgl" textLength="5.1" lengthAdjust="spacingAndGlyphs">&#955;</text>
<text x="287.70" y="72.70" class="lgl" textLength="4.3" lengthAdjust="spacingAndGlyphs">=</text>
<text x="294.50" y="72.70" class="lg" textLength="14.36" lengthAdjust="spacingAndGlyphs">3.75</text>
<text x="312.36" y="72.70" class="lg" textLength="12.8" lengthAdjust="spacingAndGlyphs">&#956;m</text>
<line x1="259.50" y1="80.10" x2="279.60" y2="80.10" stroke="#00b9ff" stroke-width="1.7"/>
<path d="M266.91 81.95L272.19 81.95L269.55 77.46Z" fill="#00b9ff"/>
<text x="282.20" y="83.70" class="lgl" textLength="5.1" lengthAdjust="spacingAndGlyphs">&#955;</text>
<text x="287.70" y="83.70" class="lgl" textLength="4.3" lengthAdjust="spacingAndGlyphs">=</text>
<text x="294.50" y="83.70" class="lg" textLength="4.10" lengthAdjust="spacingAndGlyphs">4</text>
<text x="302.10" y="83.70" class="lg" textLength="12.8" lengthAdjust="spacingAndGlyphs">&#956;m</text>
<line x1="259.50" y1="91.10" x2="279.60" y2="91.10" stroke="#002eff" stroke-width="1.7"/>
<rect x="267.51" y="89.06" width="4.08" height="4.08" fill="#002eff"/>
<text x="282.20" y="94.70" class="lgl" textLength="5.1" lengthAdjust="spacingAndGlyphs">&#955;</text>
<text x="287.70" y="94.70" class="lgl" textLength="4.3" lengthAdjust="spacingAndGlyphs">=</text>
<text x="294.50" y="94.70" class="lg" textLength="14.36" lengthAdjust="spacingAndGlyphs">4.25</text>
<text x="312.36" y="94.70" class="lg" textLength="12.8" lengthAdjust="spacingAndGlyphs">&#956;m</text>
<line x1="259.50" y1="102.10" x2="279.60" y2="102.10" stroke="#5d00ff" stroke-width="1.7"/>
<path d="M267.70 99.46L267.70 104.74L272.19 102.10Z" fill="#5d00ff"/>
<text x="282.20" y="105.70" class="lgl" textLength="5.1" lengthAdjust="spacingAndGlyphs">&#955;</text>
<text x="287.70" y="105.70" class="lgl" textLength="4.3" lengthAdjust="spacingAndGlyphs">=</text>
<text x="294.50" y="105.70" class="lg" textLength="10.26" lengthAdjust="spacingAndGlyphs">4.5</text>
<text x="308.26" y="105.70" class="lg" textLength="12.8" lengthAdjust="spacingAndGlyphs">&#956;m</text>
<line x1="259.50" y1="113.10" x2="279.60" y2="113.10" stroke="#e800ff" stroke-width="1.7"/>
<path d="M271.40 110.46L271.40 115.74L266.91 113.10Z" fill="#e800ff"/>
<text x="282.20" y="116.70" class="lgl" textLength="5.1" lengthAdjust="spacingAndGlyphs">&#955;</text>
<text x="287.70" y="116.70" class="lgl" textLength="4.3" lengthAdjust="spacingAndGlyphs">=</text>
<text x="294.50" y="116.70" class="lg" textLength="14.36" lengthAdjust="spacingAndGlyphs">4.75</text>
<text x="312.36" y="116.70" class="lg" textLength="12.8" lengthAdjust="spacingAndGlyphs">&#956;m</text>
<line x1="259.50" y1="124.10" x2="279.60" y2="124.10" stroke="#ff008b" stroke-width="1.7"/>
<path d="M269.55 120.98L270.39 122.65L272.25 122.54L271.23 124.10L272.25 125.66L270.39 125.55L269.55 127.22L268.71 125.55L266.85 125.66L267.87 124.10L266.85 122.54L268.71 122.65Z" fill="#ff008b"/>
<text x="282.20" y="127.70" class="lgl" textLength="5.1" lengthAdjust="spacingAndGlyphs">&#955;</text>
<text x="287.70" y="127.70" class="lgl" textLength="4.3" lengthAdjust="spacingAndGlyphs">=</text>
<text x="294.50" y="127.70" class="lg" textLength="4.10" lengthAdjust="spacingAndGlyphs">5</text>
<text x="302.10" y="127.70" class="lg" textLength="12.8" lengthAdjust="spacingAndGlyphs">&#956;m</text>
<clipPath id="cb"><rect x="39.60" y="165.50" width="293.90" height="129.60"/></clipPath>
<line x1="64.79" y1="165.50" x2="64.79" y2="295.10" stroke="#e2e2e2" stroke-width="0.8"/>
<line x1="98.38" y1="165.50" x2="98.38" y2="295.10" stroke="#e2e2e2" stroke-width="0.8"/>
<line x1="131.97" y1="165.50" x2="131.97" y2="295.10" stroke="#e2e2e2" stroke-width="0.8"/>
<line x1="165.56" y1="165.50" x2="165.56" y2="295.10" stroke="#e2e2e2" stroke-width="0.8"/>
<line x1="199.15" y1="165.50" x2="199.15" y2="295.10" stroke="#e2e2e2" stroke-width="0.8"/>
<line x1="232.73" y1="165.50" x2="232.73" y2="295.10" stroke="#e2e2e2" stroke-width="0.8"/>
<line x1="266.32" y1="165.50" x2="266.32" y2="295.10" stroke="#e2e2e2" stroke-width="0.8"/>
<line x1="299.91" y1="165.50" x2="299.91" y2="295.10" stroke="#e2e2e2" stroke-width="0.8"/>
<line x1="39.60" y1="179.90" x2="333.50" y2="179.90" stroke="#e2e2e2" stroke-width="0.8"/>
<line x1="39.60" y1="194.30" x2="333.50" y2="194.30" stroke="#c8c8c8" stroke-width="0.8" stroke-dasharray="0.8 1.3"/>
<line x1="39.60" y1="208.70" x2="333.50" y2="208.70" stroke="#c8c8c8" stroke-width="0.8" stroke-dasharray="0.8 1.3"/>
<line x1="39.60" y1="223.10" x2="333.50" y2="223.10" stroke="#c8c8c8" stroke-width="0.8" stroke-dasharray="0.8 1.3"/>
<line x1="39.60" y1="237.50" x2="333.50" y2="237.50" stroke="#c8c8c8" stroke-width="0.8" stroke-dasharray="0.8 1.3"/>
<line x1="39.60" y1="251.90" x2="333.50" y2="251.90" stroke="#e2e2e2" stroke-width="0.8"/>
<line x1="39.60" y1="266.30" x2="333.50" y2="266.30" stroke="#c8c8c8" stroke-width="0.8" stroke-dasharray="0.8 1.3"/>
<line x1="39.60" y1="280.70" x2="333.50" y2="280.70" stroke="#c8c8c8" stroke-width="0.8" stroke-dasharray="0.8 1.3"/>
<g clip-path="url(#cb)"><polyline points="37.92,225.91 38.39,227.50 38.97,229.50 39.56,231.50 40.15,233.50 40.73,235.50 41.32,237.50 41.91,239.50 42.49,241.50 43.08,243.50 43.67,245.50 44.25,247.50 44.84,249.50 45.43,251.50 46.01,253.50 46.60,255.50 47.19,257.50 47.77,259.50 48.36,261.50 48.95,263.50 49.54,265.50 50.12,267.50 50.71,269.50 51.30,271.50 51.88,273.50 52.47,275.50 53.06,277.50 53.64,279.50 54.23,281.50 54.82,283.50 55.40,285.50 55.99,287.50 56.58,289.50 57.16,291.50 57.75,293.50 58.34,295.50 58.92,297.50 59.51,299.50 60.10,301.50 60.68,303.50 61.27,305.50 61.86,307.50 62.44,309.50 63.03,311.50 63.62,313.50 131.97,495.10" stroke="#ff0000" stroke-width="2.0" fill="none" stroke-linejoin="round"/><circle cx="37.92" cy="225.91" r="1.08" fill="#ff0000"/><circle cx="40.16" cy="233.54" r="1.08" fill="#ff0000"/><circle cx="42.40" cy="241.17" r="1.08" fill="#ff0000"/><circle cx="44.64" cy="248.81" r="1.08" fill="#ff0000"/><circle cx="46.88" cy="256.44" r="1.08" fill="#ff0000"/><circle cx="49.12" cy="264.07" r="1.08" fill="#ff0000"/><circle cx="51.36" cy="271.71" r="1.08" fill="#ff0000"/><circle cx="53.60" cy="279.34" r="1.08" fill="#ff0000"/><circle cx="55.83" cy="286.97" r="1.08" fill="#ff0000"/><circle cx="58.07" cy="294.61" r="1.08" fill="#ff0000"/><polyline points="42.96,220.25 43.38,221.50 44.05,223.50 44.73,225.50 45.40,227.50 46.07,229.50 46.75,231.50 47.42,233.50 48.09,235.50 48.77,237.50 49.44,239.50 50.12,241.50 50.79,243.50 51.46,245.50 52.14,247.50 52.81,249.50 53.48,251.50 54.16,253.50 54.83,255.50 55.51,257.50 56.18,259.50 56.85,261.50 57.53,263.50 58.20,265.50 58.87,267.50 59.55,269.50 60.22,271.50 60.90,273.50 61.57,275.50 62.24,277.50 62.92,279.50 63.59,281.50 64.26,283.50 64.94,285.50 65.61,287.50 66.28,289.50 66.96,291.50 67.63,293.50 68.31,295.50 68.98,297.50 69.65,299.50 70.33,301.50 71.00,303.50 71.67,305.50 72.35,307.50 73.02,309.50 73.70,311.50 74.37,313.50 148.76,495.10" stroke="#ff8b00" stroke-width="2.0" fill="none" stroke-linejoin="round"/><circle cx="42.96" cy="220.25" r="1.97" fill="#ff8b00"/><circle cx="45.48" cy="227.73" r="1.97" fill="#ff8b00"/><circle cx="48.00" cy="235.21" r="1.97" fill="#ff8b00"/><circle cx="50.52" cy="242.69" r="1.97" fill="#ff8b00"/><circle cx="53.04" cy="250.17" r="1.97" fill="#ff8b00"/><circle cx="55.55" cy="257.65" r="1.97" fill="#ff8b00"/><circle cx="58.07" cy="265.12" r="1.97" fill="#ff8b00"/><circle cx="60.59" cy="272.60" r="1.97" fill="#ff8b00"/><circle cx="63.11" cy="280.08" r="1.97" fill="#ff8b00"/><circle cx="65.63" cy="287.56" r="1.97" fill="#ff8b00"/><circle cx="68.15" cy="295.04" r="1.97" fill="#ff8b00"/><polyline points="48.00,212.99 48.21,213.50 49.02,215.50 49.84,217.50 50.65,219.50 51.47,221.50 52.28,223.50 53.10,225.50 53.91,227.50 54.73,229.50 55.54,231.50 56.36,233.50 57.17,235.50 57.99,237.50 58.80,239.50 59.62,241.50 60.43,243.50 61.25,245.50 62.06,247.50 62.88,249.50 63.69,251.50 64.51,253.50 65.32,255.50 66.14,257.50 66.95,259.50 67.77,261.50 68.58,263.50 69.40,265.50 70.21,267.50 71.03,269.50 71.84,271.50 72.66,273.50 73.47,275.50 74.29,277.50 75.10,279.50 75.92,281.50 76.73,283.50 77.55,285.50 78.36,287.50 79.18,289.50 79.99,291.50 80.81,293.50 81.62,295.50 82.44,297.50 83.25,299.50 84.07,301.50 84.88,303.50 85.70,305.50 86.51,307.50 87.33,309.50 88.14,311.50 88.96,313.50 165.56,495.10" stroke="#e8ff00" stroke-width="2.0" fill="none" stroke-linejoin="round"/><path d="M46.68 211.67L49.32 214.31M46.68 214.31L49.32 211.67" stroke="#e8ff00" stroke-width="0.9" fill="none"/><path d="M49.48 218.54L52.12 221.18M49.48 221.18L52.12 218.54" stroke="#e8ff00" stroke-width="0.9" fill="none"/><path d="M52.28 225.41L54.92 228.05M52.28 228.05L54.92 225.41" stroke="#e8ff00" stroke-width="0.9" fill="none"/><path d="M55.07 232.27L57.71 234.91M55.07 234.91L57.71 232.27" stroke="#e8ff00" stroke-width="0.9" fill="none"/><path d="M57.87 239.14L60.51 241.78M57.87 241.78L60.51 239.14" stroke="#e8ff00" stroke-width="0.9" fill="none"/><path d="M60.67 246.01L63.31 248.65M60.67 248.65L63.31 246.01" stroke="#e8ff00" stroke-width="0.9" fill="none"/><path d="M63.47 252.88L66.11 255.52M63.47 255.52L66.11 252.88" stroke="#e8ff00" stroke-width="0.9" fill="none"/><path d="M66.27 259.75L68.91 262.39M66.27 262.39L68.91 259.75" stroke="#e8ff00" stroke-width="0.9" fill="none"/><path d="M69.07 266.61L71.71 269.25M69.07 269.25L71.71 266.61" stroke="#e8ff00" stroke-width="0.9" fill="none"/><path d="M71.87 273.48L74.51 276.12M71.87 276.12L74.51 273.48" stroke="#e8ff00" stroke-width="0.9" fill="none"/><path d="M74.67 280.35L77.31 282.99M74.67 282.99L77.31 280.35" stroke="#e8ff00" stroke-width="0.9" fill="none"/><path d="M77.47 287.22L80.11 289.86M77.47 289.86L80.11 287.22" stroke="#e8ff00" stroke-width="0.9" fill="none"/><path d="M80.27 294.09L82.91 296.73M80.27 296.73L82.91 294.09" stroke="#e8ff00" stroke-width="0.9" fill="none"/><polyline points="53.04,208.71 53.41,209.50 54.36,211.50 55.32,213.50 56.27,215.50 57.22,217.50 58.17,219.50 59.12,221.50 60.07,223.50 61.03,225.50 61.98,227.50 62.93,229.50 63.88,231.50 64.83,233.50 65.78,235.50 66.73,237.50 67.69,239.50 68.64,241.50 69.59,243.50 70.54,245.50 71.49,247.50 72.44,249.50 73.39,251.50 74.35,253.50 75.30,255.50 76.25,257.50 77.20,259.50 78.15,261.50 79.10,263.50 80.06,265.50 81.01,267.50 81.96,269.50 82.91,271.50 83.86,273.50 84.81,275.50 85.76,277.50 86.72,279.50 87.67,281.50 88.62,283.50 89.57,285.50 90.52,287.50 91.47,289.50 92.42,291.50 93.38,293.50 94.33,295.50 95.28,297.50 96.23,299.50 97.18,301.50 98.13,303.50 99.09,305.50 100.04,307.50 100.99,309.50 101.94,311.50 102.89,313.50 182.35,480.52" stroke="#5dff00" stroke-width="2.0" fill="none" stroke-linejoin="round"/><path d="M51.36 208.71L54.72 208.71M53.04 207.03L53.04 210.39" stroke="#5dff00" stroke-width="0.9" fill="none"/><path d="M54.43 215.18L57.79 215.18M56.11 213.50L56.11 216.86" stroke="#5dff00" stroke-width="0.9" fill="none"/><path d="M57.51 221.65L60.87 221.65M59.19 219.97L59.19 223.33" stroke="#5dff00" stroke-width="0.9" fill="none"/><path d="M60.59 228.12L63.95 228.12M62.27 226.44L62.27 229.80" stroke="#5dff00" stroke-width="0.9" fill="none"/><path d="M63.67 234.59L67.03 234.59M65.35 232.91L65.35 236.27" stroke="#5dff00" stroke-width="0.9" fill="none"/><path d="M66.75 241.07L70.11 241.07M68.43 239.39L68.43 242.75" stroke="#5dff00" stroke-width="0.9" fill="none"/><path d="M69.83 247.54L73.19 247.54M71.51 245.86L71.51 249.22" stroke="#5dff00" stroke-width="0.9" fill="none"/><path d="M72.91 254.01L76.27 254.01M74.59 252.33L74.59 255.69" stroke="#5dff00" stroke-width="0.9" fill="none"/><path d="M75.99 260.48L79.35 260.48M77.67 258.80L77.67 262.16" stroke="#5dff00" stroke-width="0.9" fill="none"/><path d="M79.07 266.95L82.43 266.95M80.75 265.27L80.75 268.63" stroke="#5dff00" stroke-width="0.9" fill="none"/><path d="M82.14 273.42L85.50 273.42M83.82 271.74L83.82 275.10" stroke="#5dff00" stroke-width="0.9" fill="none"/><path d="M85.22 279.90L88.58 279.90M86.90 278.22L86.90 281.58" stroke="#5dff00" stroke-width="0.9" fill="none"/><path d="M88.30 286.37L91.66 286.37M89.98 284.69L89.98 288.05" stroke="#5dff00" stroke-width="0.9" fill="none"/><path d="M91.38 292.84L94.74 292.84M93.06 291.16L93.06 294.52" stroke="#5dff00" stroke-width="0.9" fill="none"/><polyline points="58.07,201.87 58.97,203.50 60.07,205.50 61.18,207.50 62.28,209.50 63.38,211.50 64.49,213.50 65.59,215.50 66.69,217.50 67.80,219.50 68.90,221.50 70.00,223.50 71.11,225.50 72.21,227.50 73.31,229.50 74.42,231.50 75.52,233.50 76.63,235.50 77.73,237.50 78.83,239.50 79.94,241.50 81.04,243.50 82.14,245.50 83.25,247.50 84.35,249.50 85.45,251.50 86.56,253.50 87.66,255.50 88.76,257.50 89.87,259.50 90.97,261.50 92.07,263.50 93.18,265.50 94.28,267.50 95.38,269.50 96.49,271.50 97.59,273.50 98.69,275.50 99.80,277.50 100.90,279.50 102.00,281.50 103.11,283.50 104.21,285.50 105.31,287.50 106.42,289.50 107.52,291.50 108.62,293.50 109.73,295.50 110.83,297.50 111.93,299.50 113.04,301.50 114.14,303.50 115.24,305.50 116.35,307.50 117.45,309.50 118.56,311.50 119.66,313.50 199.15,457.57" stroke="#00ff2e" stroke-width="2.0" fill="none" stroke-linejoin="round"/><path d="M55.43 200.03L60.71 200.03L58.07 204.51Z" fill="#00ff2e"/><path d="M58.79 206.11L64.07 206.11L61.43 210.60Z" fill="#00ff2e"/><path d="M62.15 212.20L67.43 212.20L64.79 216.69Z" fill="#00ff2e"/><path d="M65.51 218.29L70.79 218.29L68.15 222.78Z" fill="#00ff2e"/><path d="M68.87 224.38L74.15 224.38L71.51 228.87Z" fill="#00ff2e"/><path d="M72.23 230.47L77.51 230.47L74.87 234.95Z" fill="#00ff2e"/><path d="M75.59 236.55L80.87 236.55L78.23 241.04Z" fill="#00ff2e"/><path d="M78.95 242.64L84.23 242.64L81.59 247.13Z" fill="#00ff2e"/><path d="M82.30 248.73L87.58 248.73L84.94 253.22Z" fill="#00ff2e"/><path d="M85.66 254.82L90.94 254.82L88.30 259.31Z" fill="#00ff2e"/><path d="M89.02 260.91L94.30 260.91L91.66 265.40Z" fill="#00ff2e"/><path d="M92.38 267.00L97.66 267.00L95.02 271.48Z" fill="#00ff2e"/><path d="M95.74 273.08L101.02 273.08L98.38 277.57Z" fill="#00ff2e"/><path d="M99.10 279.17L104.38 279.17L101.74 283.66Z" fill="#00ff2e"/><path d="M102.46 285.26L107.74 285.26L105.10 289.75Z" fill="#00ff2e"/><path d="M105.82 291.35L111.10 291.35L108.46 295.84Z" fill="#00ff2e"/><polyline points="63.11,192.51 63.76,193.50 65.05,195.50 66.35,197.50 67.65,199.50 68.95,201.50 70.25,203.50 71.55,205.50 72.85,207.50 74.14,209.50 75.44,211.50 76.74,213.50 78.04,215.50 79.34,217.50 80.64,219.50 81.94,221.50 83.23,223.50 84.53,225.50 85.83,227.50 87.13,229.50 88.43,231.50 89.73,233.50 91.03,235.50 92.32,237.50 93.62,239.50 94.92,241.50 96.22,243.50 97.52,245.50 98.82,247.50 100.12,249.50 101.41,251.50 102.71,253.50 104.01,255.50 105.31,257.50 106.61,259.50 107.91,261.50 109.21,263.50 110.50,265.50 111.80,267.50 113.10,269.50 114.40,271.50 115.70,273.50 117.00,275.50 118.30,277.50 119.59,279.50 120.89,281.50 122.19,283.50 123.49,285.50 124.79,287.50 126.09,289.50 127.39,291.50 128.68,293.50 129.98,295.50 131.28,297.50 132.58,299.50 133.88,301.50 135.18,303.50 136.48,305.50 137.77,307.50 139.07,309.50 140.37,311.50 141.67,313.50 215.94,427.89" stroke="#00ffb9" stroke-width="2.0" fill="none" stroke-linejoin="round"/><path d="M63.11 189.87L65.39 192.51L63.11 195.15L60.83 192.51Z" fill="#00ffb9"/><path d="M66.75 195.47L69.03 198.11L66.75 200.75L64.47 198.11Z" fill="#00ffb9"/><path d="M70.39 201.08L72.67 203.72L70.39 206.36L68.11 203.72Z" fill="#00ffb9"/><path d="M74.03 206.68L76.31 209.32L74.03 211.96L71.75 209.32Z" fill="#00ffb9"/><path d="M77.67 212.29L79.95 214.93L77.67 217.57L75.39 214.93Z" fill="#00ffb9"/><path d="M81.31 217.89L83.59 220.53L81.31 223.17L79.03 220.53Z" fill="#00ffb9"/><path d="M84.94 223.49L87.22 226.13L84.94 228.77L82.66 226.13Z" fill="#00ffb9"/><path d="M88.58 229.10L90.86 231.74L88.58 234.38L86.30 231.74Z" fill="#00ffb9"/><path d="M92.22 234.70L94.50 237.34L92.22 239.98L89.94 237.34Z" fill="#00ffb9"/><path d="M95.86 240.31L98.14 242.95L95.86 245.59L93.58 242.95Z" fill="#00ffb9"/><path d="M99.50 245.91L101.78 248.55L99.50 251.19L97.22 248.55Z" fill="#00ffb9"/><path d="M103.14 251.52L105.42 254.16L103.14 256.80L100.86 254.16Z" fill="#00ffb9"/><path d="M106.78 257.12L109.06 259.76L106.78 262.40L104.50 259.76Z" fill="#00ffb9"/><path d="M110.42 262.72L112.70 265.36L110.42 268.00L108.14 265.36Z" fill="#00ffb9"/><path d="M114.05 268.33L116.33 270.97L114.05 273.61L111.77 270.97Z" fill="#00ffb9"/><path d="M117.69 273.93L119.97 276.57L117.69 279.21L115.41 276.57Z" fill="#00ffb9"/><path d="M121.33 279.54L123.61 282.18L121.33 284.82L119.05 282.18Z" fill="#00ffb9"/><path d="M124.97 285.14L127.25 287.78L124.97 290.42L122.69 287.78Z" fill="#00ffb9"/><path d="M128.61 290.75L130.89 293.39L128.61 296.03L126.33 293.39Z" fill="#00ffb9"/><path d="M132.25 296.35L134.53 298.99L132.25 301.63L129.97 298.99Z" fill="#00ffb9"/><polyline points="68.15,183.66 69.59,185.50 71.14,187.50 72.70,189.50 74.26,191.50 75.82,193.50 77.37,195.50 78.93,197.50 80.49,199.50 82.05,201.50 83.61,203.50 85.16,205.50 86.72,207.50 88.28,209.50 89.84,211.50 91.39,213.50 92.95,215.50 94.51,217.50 96.07,219.50 97.63,221.50 99.18,223.50 100.74,225.50 102.30,227.50 103.86,229.50 105.41,231.50 106.97,233.50 108.53,235.50 110.09,237.50 111.65,239.50 113.20,241.50 114.76,243.50 116.32,245.50 117.88,247.50 119.43,249.50 120.99,251.50 122.55,253.50 124.11,255.50 125.67,257.50 127.22,259.50 128.78,261.50 130.34,263.50 131.90,265.50 133.45,267.50 135.01,269.50 136.57,271.50 138.13,273.50 139.69,275.50 141.24,277.50 142.80,279.50 144.36,281.50 145.92,283.50 147.48,285.50 149.03,287.50 150.59,289.50 152.15,291.50 153.71,293.50 155.26,295.50 156.82,297.50 158.38,299.50 159.94,301.50 161.50,303.50 163.05,305.50 164.61,307.50 166.17,309.50 167.73,311.50 169.28,313.50 232.73,394.96" stroke="#00b9ff" stroke-width="2.0" fill="none" stroke-linejoin="round"/><path d="M65.51 185.51L70.79 185.51L68.15 181.02Z" fill="#00b9ff"/><path d="M69.43 190.54L74.71 190.54L72.07 186.05Z" fill="#00b9ff"/><path d="M73.35 195.57L78.63 195.57L75.99 191.08Z" fill="#00b9ff"/><path d="M77.27 200.60L82.55 200.60L79.91 196.11Z" fill="#00b9ff"/><path d="M81.18 205.63L86.46 205.63L83.82 201.14Z" fill="#00b9ff"/><path d="M85.10 210.66L90.38 210.66L87.74 206.17Z" fill="#00b9ff"/><path d="M89.02 215.69L94.30 215.69L91.66 211.20Z" fill="#00b9ff"/><path d="M92.94 220.72L98.22 220.72L95.58 216.23Z" fill="#00b9ff"/><path d="M96.86 225.75L102.14 225.75L99.50 221.27Z" fill="#00b9ff"/><path d="M100.78 230.78L106.06 230.78L103.42 226.30Z" fill="#00b9ff"/><path d="M104.70 235.82L109.98 235.82L107.34 231.33Z" fill="#00b9ff"/><path d="M108.62 240.85L113.90 240.85L111.26 236.36Z" fill="#00b9ff"/><path d="M112.53 245.88L117.81 245.88L115.17 241.39Z" fill="#00b9ff"/><path d="M116.45 250.91L121.73 250.91L119.09 246.42Z" fill="#00b9ff"/><path d="M120.37 255.94L125.65 255.94L123.01 251.45Z" fill="#00b9ff"/><path d="M124.29 260.97L129.57 260.97L126.93 256.48Z" fill="#00b9ff"/><path d="M128.21 266.00L133.49 266.00L130.85 261.51Z" fill="#00b9ff"/><path d="M132.13 271.03L137.41 271.03L134.77 266.55Z" fill="#00b9ff"/><path d="M136.05 276.06L141.33 276.06L138.69 271.58Z" fill="#00b9ff"/><path d="M139.96 281.10L145.24 281.10L142.60 276.61Z" fill="#00b9ff"/><path d="M143.88 286.13L149.16 286.13L146.52 281.64Z" fill="#00b9ff"/><path d="M147.80 291.16L153.08 291.16L150.44 286.67Z" fill="#00b9ff"/><path d="M151.72 296.19L157.00 296.19L154.36 291.70Z" fill="#00b9ff"/><polyline points="73.19,175.85 74.68,177.50 76.49,179.50 78.30,181.50 80.11,183.50 81.92,185.50 83.73,187.50 85.54,189.50 87.35,191.50 89.16,193.50 90.97,195.50 92.78,197.50 94.59,199.50 96.40,201.50 98.21,203.50 100.02,205.50 101.83,207.50 103.64,209.50 105.45,211.50 107.26,213.50 109.07,215.50 110.88,217.50 112.69,219.50 114.50,221.50 116.31,223.50 118.12,225.50 119.93,227.50 121.74,229.50 123.55,231.50 125.36,233.50 127.17,235.50 128.98,237.50 130.79,239.50 132.60,241.50 134.41,243.50 136.22,245.50 138.03,247.50 139.84,249.50 141.65,251.50 143.46,253.50 145.27,255.50 147.08,257.50 148.89,259.50 150.70,261.50 152.51,263.50 154.32,265.50 156.13,267.50 157.94,269.50 159.75,271.50 161.56,273.50 163.37,275.50 165.18,277.50 166.99,279.50 168.80,281.50 170.61,283.50 172.42,285.50 174.23,287.50 176.05,289.50 177.86,291.50 179.67,293.50 181.48,295.50 183.29,297.50 185.10,299.50 186.91,301.50 188.72,303.50 190.53,305.50 192.34,307.50 194.15,309.50 195.96,311.50 197.77,313.50 249.53,370.69" stroke="#002eff" stroke-width="2.0" fill="none" stroke-linejoin="round"/><rect x="71.15" y="173.81" width="4.08" height="4.08" fill="#002eff"/><rect x="75.35" y="178.45" width="4.08" height="4.08" fill="#002eff"/><rect x="79.55" y="183.09" width="4.08" height="4.08" fill="#002eff"/><rect x="83.74" y="187.73" width="4.08" height="4.08" fill="#002eff"/><rect x="87.94" y="192.37" width="4.08" height="4.08" fill="#002eff"/><rect x="92.14" y="197.01" width="4.08" height="4.08" fill="#002eff"/><rect x="96.34" y="201.65" width="4.08" height="4.08" fill="#002eff"/><rect x="100.54" y="206.29" width="4.08" height="4.08" fill="#002eff"/><rect x="104.74" y="210.93" width="4.08" height="4.08" fill="#002eff"/><rect x="108.94" y="215.56" width="4.08" height="4.08" fill="#002eff"/><rect x="113.13" y="220.20" width="4.08" height="4.08" fill="#002eff"/><rect x="117.33" y="224.84" width="4.08" height="4.08" fill="#002eff"/><rect x="121.53" y="229.48" width="4.08" height="4.08" fill="#002eff"/><rect x="125.73" y="234.12" width="4.08" height="4.08" fill="#002eff"/><rect x="129.93" y="238.76" width="4.08" height="4.08" fill="#002eff"/><rect x="134.13" y="243.40" width="4.08" height="4.08" fill="#002eff"/><rect x="138.33" y="248.04" width="4.08" height="4.08" fill="#002eff"/><rect x="142.52" y="252.68" width="4.08" height="4.08" fill="#002eff"/><rect x="146.72" y="257.32" width="4.08" height="4.08" fill="#002eff"/><rect x="150.92" y="261.95" width="4.08" height="4.08" fill="#002eff"/><rect x="155.12" y="266.59" width="4.08" height="4.08" fill="#002eff"/><rect x="159.32" y="271.23" width="4.08" height="4.08" fill="#002eff"/><rect x="163.52" y="275.87" width="4.08" height="4.08" fill="#002eff"/><rect x="167.72" y="280.51" width="4.08" height="4.08" fill="#002eff"/><rect x="171.91" y="285.15" width="4.08" height="4.08" fill="#002eff"/><rect x="176.11" y="289.79" width="4.08" height="4.08" fill="#002eff"/><rect x="180.31" y="294.43" width="4.08" height="4.08" fill="#002eff"/><polyline points="78.23,167.76 80.08,169.50 82.20,171.50 84.32,173.50 86.45,175.50 88.57,177.50 90.70,179.50 92.82,181.50 94.94,183.50 97.07,185.50 99.19,187.50 101.32,189.50 103.44,191.50 105.56,193.50 107.69,195.50 109.81,197.50 111.93,199.50 114.06,201.50 116.18,203.50 118.31,205.50 120.43,207.50 122.55,209.50 124.68,211.50 126.80,213.50 128.93,215.50 131.05,217.50 133.17,219.50 135.30,221.50 137.42,223.50 139.55,225.50 141.67,227.50 143.79,229.50 145.92,231.50 148.04,233.50 150.16,235.50 152.29,237.50 154.41,239.50 156.54,241.50 158.66,243.50 160.78,245.50 162.91,247.50 165.03,249.50 167.16,251.50 169.28,253.50 171.40,255.50 173.53,257.50 175.65,259.50 177.78,261.50 179.90,263.50 182.02,265.50 184.15,267.50 186.27,269.50 188.39,271.50 190.52,273.50 192.64,275.50 194.77,277.50 196.89,279.50 199.01,281.50 201.14,283.50 203.26,285.50 205.39,287.50 207.51,289.50 209.63,291.50 211.76,293.50 213.88,295.50 216.01,297.50 218.13,299.50 220.25,301.50 222.38,303.50 224.50,305.50 226.62,307.50 228.75,309.50 230.87,311.50 233.00,313.50 266.32,344.88" stroke="#5d00ff" stroke-width="2.0" fill="none" stroke-linejoin="round"/><path d="M76.38 165.12L76.38 170.40L80.87 167.76Z" fill="#5d00ff"/><path d="M80.86 169.34L80.86 174.62L85.35 171.98Z" fill="#5d00ff"/><path d="M85.34 173.55L85.34 178.83L89.82 176.19Z" fill="#5d00ff"/><path d="M89.81 177.77L89.81 183.05L94.30 180.41Z" fill="#5d00ff"/><path d="M94.29 181.99L94.29 187.27L98.78 184.63Z" fill="#5d00ff"/><path d="M98.77 186.20L98.77 191.48L103.26 188.84Z" fill="#5d00ff"/><path d="M103.25 190.42L103.25 195.70L107.74 193.06Z" fill="#5d00ff"/><path d="M107.73 194.64L107.73 199.92L112.22 197.28Z" fill="#5d00ff"/><path d="M112.21 198.86L112.21 204.14L116.69 201.50Z" fill="#5d00ff"/><path d="M116.69 203.07L116.69 208.35L121.17 205.71Z" fill="#5d00ff"/><path d="M121.16 207.29L121.16 212.57L125.65 209.93Z" fill="#5d00ff"/><path d="M125.64 211.51L125.64 216.79L130.13 214.15Z" fill="#5d00ff"/><path d="M130.12 215.73L130.12 221.01L134.61 218.37Z" fill="#5d00ff"/><path d="M134.60 219.94L134.60 225.22L139.09 222.58Z" fill="#5d00ff"/><path d="M139.08 224.16L139.08 229.44L143.57 226.80Z" fill="#5d00ff"/><path d="M143.56 228.38L143.56 233.66L148.04 231.02Z" fill="#5d00ff"/><path d="M148.03 232.59L148.03 237.87L152.52 235.23Z" fill="#5d00ff"/><path d="M152.51 236.81L152.51 242.09L157.00 239.45Z" fill="#5d00ff"/><path d="M156.99 241.03L156.99 246.31L161.48 243.67Z" fill="#5d00ff"/><path d="M161.47 245.25L161.47 250.53L165.96 247.89Z" fill="#5d00ff"/><path d="M165.95 249.46L165.95 254.74L170.44 252.10Z" fill="#5d00ff"/><path d="M170.43 253.68L170.43 258.96L174.91 256.32Z" fill="#5d00ff"/><path d="M174.91 257.90L174.91 263.18L179.39 260.54Z" fill="#5d00ff"/><path d="M179.38 262.12L179.38 267.40L183.87 264.76Z" fill="#5d00ff"/><path d="M183.86 266.33L183.86 271.61L188.35 268.97Z" fill="#5d00ff"/><path d="M188.34 270.55L188.34 275.83L192.83 273.19Z" fill="#5d00ff"/><path d="M192.82 274.77L192.82 280.05L197.31 277.41Z" fill="#5d00ff"/><path d="M197.30 278.98L197.30 284.26L201.79 281.62Z" fill="#5d00ff"/><path d="M201.78 283.20L201.78 288.48L206.26 285.84Z" fill="#5d00ff"/><path d="M206.25 287.42L206.25 292.70L210.74 290.06Z" fill="#5d00ff"/><path d="M210.73 291.64L210.73 296.92L215.22 294.28Z" fill="#5d00ff"/><path d="M215.21 295.85L215.21 301.13L219.70 298.49Z" fill="#5d00ff"/><polyline points="83.27,160.32 84.75,161.50 87.28,163.50 89.81,165.50 92.33,167.50 94.86,169.50 97.38,171.50 99.91,173.50 102.44,175.50 104.96,177.50 107.49,179.50 110.01,181.50 112.54,183.50 115.06,185.50 117.59,187.50 120.12,189.50 122.64,191.50 125.17,193.50 127.69,195.50 130.22,197.50 132.75,199.50 135.27,201.50 137.80,203.50 140.32,205.50 142.85,207.50 145.38,209.50 147.90,211.50 150.43,213.50 152.95,215.50 155.48,217.50 158.00,219.50 160.53,221.50 163.06,223.50 165.58,225.50 168.11,227.50 170.63,229.50 173.16,231.50 175.69,233.50 178.21,235.50 180.74,237.50 183.26,239.50 185.79,241.50 188.31,243.50 190.84,245.50 193.37,247.50 195.89,249.50 198.42,251.50 200.94,253.50 203.47,255.50 206.00,257.50 208.52,259.50 211.05,261.50 213.57,263.50 216.10,265.50 218.63,267.50 221.15,269.50 223.68,271.50 226.20,273.50 228.73,275.50 231.25,277.50 233.78,279.50 236.31,281.50 238.83,283.50 241.36,285.50 243.88,287.50 246.41,289.50 248.94,291.50 251.46,293.50 253.99,295.50 256.51,297.50 259.04,299.50 261.56,301.50 264.09,303.50 266.62,305.50 269.14,307.50 271.67,309.50 274.19,311.50 276.72,313.50 283.12,318.57" stroke="#e800ff" stroke-width="2.0" fill="none" stroke-linejoin="round"/><path d="M89.87 161.45L89.87 166.73L85.38 164.09Z" fill="#e800ff"/><path d="M94.63 165.22L94.63 170.50L90.14 167.86Z" fill="#e800ff"/><path d="M99.39 168.98L99.39 174.26L94.90 171.62Z" fill="#e800ff"/><path d="M104.15 172.75L104.15 178.03L99.66 175.39Z" fill="#e800ff"/><path d="M108.91 176.52L108.91 181.80L104.42 179.16Z" fill="#e800ff"/><path d="M113.66 180.29L113.66 185.57L109.18 182.93Z" fill="#e800ff"/><path d="M118.42 184.05L118.42 189.33L113.93 186.69Z" fill="#e800ff"/><path d="M123.18 187.82L123.18 193.10L118.69 190.46Z" fill="#e800ff"/><path d="M127.94 191.59L127.94 196.87L123.45 194.23Z" fill="#e800ff"/><path d="M132.70 195.36L132.70 200.64L128.21 198.00Z" fill="#e800ff"/><path d="M137.46 199.13L137.46 204.41L132.97 201.77Z" fill="#e800ff"/><path d="M142.21 202.89L142.21 208.17L137.73 205.53Z" fill="#e800ff"/><path d="M146.97 206.66L146.97 211.94L142.48 209.30Z" fill="#e800ff"/><path d="M151.73 210.43L151.73 215.71L147.24 213.07Z" fill="#e800ff"/><path d="M156.49 214.20L156.49 219.48L152.00 216.84Z" fill="#e800ff"/><path d="M161.25 217.96L161.25 223.24L156.76 220.60Z" fill="#e800ff"/><path d="M166.01 221.73L166.01 227.01L161.52 224.37Z" fill="#e800ff"/><path d="M170.76 225.50L170.76 230.78L166.28 228.14Z" fill="#e800ff"/><path d="M175.52 229.27L175.52 234.55L171.03 231.91Z" fill="#e800ff"/><path d="M180.28 233.04L180.28 238.32L175.79 235.68Z" fill="#e800ff"/><path d="M185.04 236.80L185.04 242.08L180.55 239.44Z" fill="#e800ff"/><path d="M189.80 240.57L189.80 245.85L185.31 243.21Z" fill="#e800ff"/><path d="M194.56 244.34L194.56 249.62L190.07 246.98Z" fill="#e800ff"/><path d="M199.31 248.11L199.31 253.39L194.83 250.75Z" fill="#e800ff"/><path d="M204.07 251.87L204.07 257.15L199.58 254.51Z" fill="#e800ff"/><path d="M208.83 255.64L208.83 260.92L204.34 258.28Z" fill="#e800ff"/><path d="M213.59 259.41L213.59 264.69L209.10 262.05Z" fill="#e800ff"/><path d="M218.35 263.18L218.35 268.46L213.86 265.82Z" fill="#e800ff"/><path d="M223.11 266.94L223.11 272.22L218.62 269.58Z" fill="#e800ff"/><path d="M227.86 270.71L227.86 275.99L223.38 273.35Z" fill="#e800ff"/><path d="M232.62 274.48L232.62 279.76L228.13 277.12Z" fill="#e800ff"/><path d="M237.38 278.25L237.38 283.53L232.89 280.89Z" fill="#e800ff"/><path d="M242.14 282.02L242.14 287.30L237.65 284.66Z" fill="#e800ff"/><path d="M246.90 285.78L246.90 291.06L242.41 288.42Z" fill="#e800ff"/><path d="M251.66 289.55L251.66 294.83L247.17 292.19Z" fill="#e800ff"/><path d="M256.41 293.32L256.41 298.60L251.93 295.96Z" fill="#e800ff"/><polyline points="88.30,153.88 90.69,155.50 93.64,157.50 96.59,159.50 99.54,161.50 102.49,163.50 105.44,165.50 108.40,167.50 111.35,169.50 114.30,171.50 117.25,173.50 120.20,175.50 123.15,177.50 126.10,179.50 129.05,181.50 132.01,183.50 134.96,185.50 137.91,187.50 140.86,189.50 143.81,191.50 146.76,193.50 149.71,195.50 152.67,197.50 155.62,199.50 158.57,201.50 161.52,203.50 164.47,205.50 167.42,207.50 170.37,209.50 173.32,211.50 176.28,213.50 179.23,215.50 182.18,217.50 185.13,219.50 188.08,221.50 191.03,223.50 193.98,225.50 196.94,227.50 199.89,229.50 202.84,231.50 205.79,233.50 208.74,235.50 211.69,237.50 214.64,239.50 217.59,241.50 220.55,243.50 223.50,245.50 226.45,247.50 229.40,249.50 232.35,251.50 235.30,253.50 238.25,255.50 241.21,257.50 244.16,259.50 247.11,261.50 250.06,263.50 253.01,265.50 255.96,267.50 258.91,269.50 261.86,271.50 264.82,273.50 267.77,275.50 270.72,277.50 273.67,279.50 276.62,281.50 279.57,283.50 282.52,285.50 285.48,287.50 288.43,289.50 291.38,291.50 294.33,293.50 297.28,295.50 299.91,297.28" stroke="#ff008b" stroke-width="2.0" fill="none" stroke-linejoin="round"/><path d="M103.42 161.01L104.26 162.67L106.12 162.57L105.10 164.13L106.12 165.69L104.26 165.58L103.42 167.25L102.58 165.58L100.72 165.69L101.74 164.13L100.72 162.57L102.58 162.67Z" fill="#ff008b"/><path d="M108.46 164.42L109.30 166.09L111.16 165.98L110.14 167.54L111.16 169.10L109.30 169.00L108.46 170.66L107.62 169.00L105.75 169.10L106.78 167.54L105.75 165.98L107.62 166.09Z" fill="#ff008b"/><path d="M113.49 167.84L114.33 169.50L116.20 169.40L115.17 170.96L116.20 172.52L114.33 172.41L113.49 174.08L112.65 172.41L110.79 172.52L111.81 170.96L110.79 169.40L112.65 169.50Z" fill="#ff008b"/><path d="M118.53 171.25L119.37 172.92L121.24 172.81L120.21 174.37L121.24 175.93L119.37 175.83L118.53 177.49L117.69 175.83L115.83 175.93L116.85 174.37L115.83 172.81L117.69 172.92Z" fill="#ff008b"/><path d="M123.57 174.66L124.41 176.33L126.27 176.22L125.25 177.78L126.27 179.34L124.41 179.24L123.57 180.90L122.73 179.24L120.87 179.34L121.89 177.78L120.87 176.22L122.73 176.33Z" fill="#ff008b"/><path d="M128.61 178.08L129.45 179.74L131.31 179.64L130.29 181.20L131.31 182.76L129.45 182.65L128.61 184.32L127.77 182.65L125.91 182.76L126.93 181.20L125.91 179.64L127.77 179.74Z" fill="#ff008b"/><path d="M133.65 181.49L134.49 183.16L136.35 183.05L135.33 184.61L136.35 186.17L134.49 186.07L133.65 187.73L132.81 186.07L130.95 186.17L131.97 184.61L130.95 183.05L132.81 183.16Z" fill="#ff008b"/><path d="M138.69 184.91L139.53 186.57L141.39 186.47L140.37 188.03L141.39 189.59L139.53 189.48L138.69 191.15L137.85 189.48L135.98 189.59L137.01 188.03L135.98 186.47L137.85 186.57Z" fill="#ff008b"/><path d="M143.72 188.32L144.56 189.99L146.43 189.88L145.40 191.44L146.43 193.00L144.56 192.90L143.72 194.56L142.88 192.90L141.02 193.00L142.04 191.44L141.02 189.88L142.88 189.99Z" fill="#ff008b"/><path d="M148.76 191.74L149.60 193.40L151.46 193.30L150.44 194.86L151.46 196.42L149.60 196.31L148.76 197.98L147.92 196.31L146.06 196.42L147.08 194.86L146.06 193.30L147.92 193.40Z" fill="#ff008b"/><path d="M153.80 195.15L154.64 196.81L156.50 196.71L155.48 198.27L156.50 199.83L154.64 199.72L153.80 201.39L152.96 199.72L151.10 199.83L152.12 198.27L151.10 196.71L152.96 196.81Z" fill="#ff008b"/><path d="M158.84 198.56L159.68 200.23L161.54 200.12L160.52 201.68L161.54 203.24L159.68 203.14L158.84 204.80L158.00 203.14L156.14 203.24L157.16 201.68L156.14 200.12L158.00 200.23Z" fill="#ff008b"/><path d="M163.88 201.98L164.72 203.64L166.58 203.54L165.56 205.10L166.58 206.66L164.72 206.55L163.88 208.22L163.04 206.55L161.18 206.66L162.20 205.10L161.18 203.54L163.04 203.64Z" fill="#ff008b"/><path d="M168.92 205.39L169.76 207.06L171.62 206.95L170.60 208.51L171.62 210.07L169.76 209.97L168.92 211.63L168.08 209.97L166.21 210.07L167.24 208.51L166.21 206.95L168.08 207.06Z" fill="#ff008b"/><path d="M173.95 208.81L174.79 210.47L176.66 210.37L175.63 211.93L176.66 213.49L174.79 213.38L173.95 215.05L173.11 213.38L171.25 213.49L172.27 211.93L171.25 210.37L173.11 210.47Z" fill="#ff008b"/><path d="M178.99 212.22L179.83 213.89L181.69 213.78L180.67 215.34L181.69 216.90L179.83 216.80L178.99 218.46L178.15 216.80L176.29 216.90L177.31 215.34L176.29 213.78L178.15 213.89Z" fill="#ff008b"/><path d="M184.03 215.64L184.87 217.30L186.73 217.20L185.71 218.76L186.73 220.32L184.87 220.21L184.03 221.88L183.19 220.21L181.33 220.32L182.35 218.76L181.33 217.20L183.19 217.30Z" fill="#ff008b"/><path d="M189.07 219.05L189.91 220.71L191.77 220.61L190.75 222.17L191.77 223.73L189.91 223.62L189.07 225.29L188.23 223.62L186.37 223.73L187.39 222.17L186.37 220.61L188.23 220.71Z" fill="#ff008b"/><path d="M194.11 222.46L194.95 224.13L196.81 224.02L195.79 225.58L196.81 227.14L194.95 227.04L194.11 228.70L193.27 227.04L191.41 227.14L192.43 225.58L191.41 224.02L193.27 224.13Z" fill="#ff008b"/><path d="M199.15 225.88L199.99 227.54L201.85 227.44L200.83 229.00L201.85 230.56L199.99 230.45L199.15 232.12L198.31 230.45L196.44 230.56L197.47 229.00L196.44 227.44L198.31 227.54Z" fill="#ff008b"/><path d="M204.18 229.29L205.02 230.96L206.89 230.85L205.86 232.41L206.89 233.97L205.02 233.87L204.18 235.53L203.34 233.87L201.48 233.97L202.50 232.41L201.48 230.85L203.34 230.96Z" fill="#ff008b"/><path d="M209.22 232.71L210.06 234.37L211.92 234.27L210.90 235.83L211.92 237.39L210.06 237.28L209.22 238.95L208.38 237.28L206.52 237.39L207.54 235.83L206.52 234.27L208.38 234.37Z" fill="#ff008b"/><path d="M214.26 236.12L215.10 237.79L216.96 237.68L215.94 239.24L216.96 240.80L215.10 240.70L214.26 242.36L213.42 240.70L211.56 240.80L212.58 239.24L211.56 237.68L213.42 237.79Z" fill="#ff008b"/><path d="M219.30 239.54L220.14 241.20L222.00 241.10L220.98 242.66L222.00 244.22L220.14 244.11L219.30 245.78L218.46 244.11L216.60 244.22L217.62 242.66L216.60 241.10L218.46 241.20Z" fill="#ff008b"/><path d="M224.34 242.95L225.18 244.61L227.04 244.51L226.02 246.07L227.04 247.63L225.18 247.52L224.34 249.19L223.50 247.52L221.64 247.63L222.66 246.07L221.64 244.51L223.50 244.61Z" fill="#ff008b"/><path d="M229.38 246.36L230.22 248.03L232.08 247.92L231.06 249.48L232.08 251.04L230.22 250.94L229.38 252.60L228.54 250.94L226.67 251.04L227.70 249.48L226.67 247.92L228.54 248.03Z" fill="#ff008b"/><path d="M234.41 249.78L235.25 251.44L237.12 251.34L236.09 252.90L237.12 254.46L235.25 254.35L234.41 256.02L233.57 254.35L231.71 254.46L232.73 252.90L231.71 251.34L233.57 251.44Z" fill="#ff008b"/><path d="M239.45 253.19L240.29 254.86L242.15 254.75L241.13 256.31L242.15 257.87L240.29 257.77L239.45 259.43L238.61 257.77L236.75 257.87L237.77 256.31L236.75 254.75L238.61 254.86Z" fill="#ff008b"/><path d="M244.49 256.61L245.33 258.27L247.19 258.17L246.17 259.73L247.19 261.29L245.33 261.18L244.49 262.85L243.65 261.18L241.79 261.29L242.81 259.73L241.79 258.17L243.65 258.27Z" fill="#ff008b"/><path d="M249.53 260.02L250.37 261.69L252.23 261.58L251.21 263.14L252.23 264.70L250.37 264.60L249.53 266.26L248.69 264.60L246.83 264.70L247.85 263.14L246.83 261.58L248.69 261.69Z" fill="#ff008b"/><path d="M254.57 263.43L255.41 265.10L257.27 264.99L256.25 266.55L257.27 268.11L255.41 268.01L254.57 269.67L253.73 268.01L251.86 268.11L252.89 266.55L251.86 264.99L253.73 265.10Z" fill="#ff008b"/><path d="M259.61 266.85L260.45 268.51L262.31 268.41L261.29 269.97L262.31 271.53L260.45 271.42L259.61 273.09L258.77 271.42L256.90 271.53L257.93 269.97L256.90 268.41L258.77 268.51Z" fill="#ff008b"/><path d="M264.64 270.26L265.48 271.93L267.35 271.82L266.32 273.38L267.35 274.94L265.48 274.84L264.64 276.50L263.80 274.84L261.94 274.94L262.96 273.38L261.94 271.82L263.80 271.93Z" fill="#ff008b"/><path d="M269.68 273.68L270.52 275.34L272.38 275.24L271.36 276.80L272.38 278.36L270.52 278.25L269.68 279.92L268.84 278.25L266.98 278.36L268.00 276.80L266.98 275.24L268.84 275.34Z" fill="#ff008b"/><path d="M274.72 277.09L275.56 278.76L277.42 278.65L276.40 280.21L277.42 281.77L275.56 281.67L274.72 283.33L273.88 281.67L272.02 281.77L273.04 280.21L272.02 278.65L273.88 278.76Z" fill="#ff008b"/><path d="M279.76 280.51L280.60 282.17L282.46 282.07L281.44 283.63L282.46 285.19L280.60 285.08L279.76 286.75L278.92 285.08L277.06 285.19L278.08 283.63L277.06 282.07L278.92 282.17Z" fill="#ff008b"/><path d="M284.80 283.92L285.64 285.59L287.50 285.48L286.48 287.04L287.50 288.60L285.64 288.50L284.80 290.16L283.96 288.50L282.09 288.60L283.12 287.04L282.09 285.48L283.96 285.59Z" fill="#ff008b"/><path d="M289.83 287.33L290.67 289.00L292.54 288.89L291.51 290.45L292.54 292.01L290.67 291.91L289.83 293.57L288.99 291.91L287.13 292.01L288.15 290.45L287.13 288.89L288.99 289.00Z" fill="#ff008b"/><path d="M294.87 290.75L295.71 292.41L297.58 292.31L296.55 293.87L297.58 295.43L295.71 295.32L294.87 296.99L294.03 295.32L292.17 295.43L293.19 293.87L292.17 292.31L294.03 292.41Z" fill="#ff008b"/><path d="M299.91 294.16L300.75 295.83L302.61 295.72L301.59 297.28L302.61 298.84L300.75 298.74L299.91 300.40L299.07 298.74L297.21 298.84L298.23 297.28L297.21 295.72L299.07 295.83Z" fill="#ff008b"/></g>
<rect x="39.60" y="165.50" width="293.90" height="129.60" fill="none" stroke="#404040" stroke-width="1"/>
<path d="M64.79 295.10v-2.8M64.79 165.50v2.8M98.38 295.10v-2.8M98.38 165.50v2.8M131.97 295.10v-2.8M131.97 165.50v2.8M165.56 295.10v-2.8M165.56 165.50v2.8M199.15 295.10v-2.8M199.15 165.50v2.8M232.73 295.10v-2.8M232.73 165.50v2.8M266.32 295.10v-2.8M266.32 165.50v2.8M299.91 295.10v-2.8M299.91 165.50v2.8M333.50 295.10v-2.8M333.50 165.50v2.8M39.60 179.90h2.80M333.50 179.90h-2.80M39.60 194.30h1.80M333.50 194.30h-1.80M39.60 208.70h1.80M333.50 208.70h-1.80M39.60 223.10h1.80M333.50 223.10h-1.80M39.60 237.50h1.80M333.50 237.50h-1.80M39.60 251.90h2.80M333.50 251.90h-2.80M39.60 266.30h1.80M333.50 266.30h-1.80M39.60 280.70h1.80M333.50 280.70h-1.80" stroke="#404040" stroke-width="0.9" fill="none"/>
<text x="64.79" y="309.80" text-anchor="middle" class="tk">40</text>
<text x="98.38" y="309.80" text-anchor="middle" class="tk">60</text>
<text x="131.97" y="309.80" text-anchor="middle" class="tk">80</text>
<text x="165.56" y="309.80" text-anchor="middle" class="tk">100</text>
<text x="199.15" y="309.80" text-anchor="middle" class="tk">120</text>
<text x="232.73" y="309.80" text-anchor="middle" class="tk">140</text>
<text x="266.32" y="309.80" text-anchor="middle" class="tk">160</text>
<text x="299.91" y="309.80" text-anchor="middle" class="tk">180</text>
<text x="333.50" y="309.80" text-anchor="middle" class="tk">200</text>
<text x="18.50" y="185.80" class="tk">10</text><text x="30.90" y="180.90" class="sup">0</text>
<text x="15.40" y="257.80" class="tk">10</text><text x="27.60" y="252.90" class="sup">-5</text>
<rect x="262.50" y="171.50" width="66.00" height="121.00" fill="#fff"/>
<path d="M262.00 171.50H327.50M262.50 171.50V292.50M262.00 292.50H327.50" stroke="#808080" stroke-width="1" fill="none"/>
<line x1="327.90" y1="171.00" x2="327.90" y2="293.00" stroke="#c4c4c4" stroke-width="2"/>
<line x1="264.20" y1="177.70" x2="284.60" y2="177.70" stroke="#ff0000" stroke-width="1.7"/>
<circle cx="274.40" cy="177.70" r="1.08" fill="#ff0000"/>
<text x="286.60" y="181.30" class="lgl" textLength="5.1" lengthAdjust="spacingAndGlyphs">&#955;</text>
<text x="292.10" y="181.30" class="lgl" textLength="4.3" lengthAdjust="spacingAndGlyphs">=</text>
<text x="298.90" y="181.30" class="lg" textLength="4.10" lengthAdjust="spacingAndGlyphs">4</text>
<text x="306.50" y="181.30" class="lg" textLength="12.8" lengthAdjust="spacingAndGlyphs">&#956;m</text>
<line x1="264.20" y1="188.70" x2="284.60" y2="188.70" stroke="#ff8b00" stroke-width="1.7"/>
<circle cx="274.40" cy="188.70" r="1.97" fill="#ff8b00"/>
<text x="286.60" y="192.30" class="lgl" textLength="5.1" lengthAdjust="spacingAndGlyphs">&#955;</text>
<text x="292.10" y="192.30" class="lgl" textLength="4.3" lengthAdjust="spacingAndGlyphs">=</text>
<text x="298.90" y="192.30" class="lg" textLength="10.26" lengthAdjust="spacingAndGlyphs">4.5</text>
<text x="312.66" y="192.30" class="lg" textLength="12.8" lengthAdjust="spacingAndGlyphs">&#956;m</text>
<line x1="264.20" y1="199.70" x2="284.60" y2="199.70" stroke="#e8ff00" stroke-width="1.7"/>
<path d="M273.08 198.38L275.72 201.02M273.08 201.02L275.72 198.38" stroke="#e8ff00" stroke-width="0.9" fill="none"/>
<text x="286.60" y="203.30" class="lgl" textLength="5.1" lengthAdjust="spacingAndGlyphs">&#955;</text>
<text x="292.10" y="203.30" class="lgl" textLength="4.3" lengthAdjust="spacingAndGlyphs">=</text>
<text x="298.90" y="203.30" class="lg" textLength="4.10" lengthAdjust="spacingAndGlyphs">5</text>
<text x="306.50" y="203.30" class="lg" textLength="12.8" lengthAdjust="spacingAndGlyphs">&#956;m</text>
<line x1="264.20" y1="210.70" x2="284.60" y2="210.70" stroke="#5dff00" stroke-width="1.7"/>
<path d="M272.72 210.70L276.08 210.70M274.40 209.02L274.40 212.38" stroke="#5dff00" stroke-width="0.9" fill="none"/>
<text x="286.60" y="214.30" class="lgl" textLength="5.1" lengthAdjust="spacingAndGlyphs">&#955;</text>
<text x="292.10" y="214.30" class="lgl" textLength="4.3" lengthAdjust="spacingAndGlyphs">=</text>
<text x="298.90" y="214.30" class="lg" textLength="10.26" lengthAdjust="spacingAndGlyphs">5.5</text>
<text x="312.66" y="214.30" class="lg" textLength="12.8" lengthAdjust="spacingAndGlyphs">&#956;m</text>
<line x1="264.20" y1="221.70" x2="284.60" y2="221.70" stroke="#00ff2e" stroke-width="1.7"/>
<path d="M271.76 219.85L277.04 219.85L274.40 224.34Z" fill="#00ff2e"/>
<text x="286.60" y="225.30" class="lgl" textLength="5.1" lengthAdjust="spacingAndGlyphs">&#955;</text>
<text x="292.10" y="225.30" class="lgl" textLength="4.3" lengthAdjust="spacingAndGlyphs">=</text>
<text x="298.90" y="225.30" class="lg" textLength="4.10" lengthAdjust="spacingAndGlyphs">6</text>
<text x="306.50" y="225.30" class="lg" textLength="12.8" lengthAdjust="spacingAndGlyphs">&#956;m</text>
<line x1="264.20" y1="232.70" x2="284.60" y2="232.70" stroke="#00ffb9" stroke-width="1.7"/>
<path d="M274.40 230.06L276.68 232.70L274.40 235.34L272.12 232.70Z" fill="#00ffb9"/>
<text x="286.60" y="236.30" class="lgl" textLength="5.1" lengthAdjust="spacingAndGlyphs">&#955;</text>
<text x="292.10" y="236.30" class="lgl" textLength="4.3" lengthAdjust="spacingAndGlyphs">=</text>
<text x="298.90" y="236.30" class="lg" textLength="10.26" lengthAdjust="spacingAndGlyphs">6.5</text>
<text x="312.66" y="236.30" class="lg" textLength="12.8" lengthAdjust="spacingAndGlyphs">&#956;m</text>
<line x1="264.20" y1="243.70" x2="284.60" y2="243.70" stroke="#00b9ff" stroke-width="1.7"/>
<path d="M271.76 245.55L277.04 245.55L274.40 241.06Z" fill="#00b9ff"/>
<text x="286.60" y="247.30" class="lgl" textLength="5.1" lengthAdjust="spacingAndGlyphs">&#955;</text>
<text x="292.10" y="247.30" class="lgl" textLength="4.3" lengthAdjust="spacingAndGlyphs">=</text>
<text x="298.90" y="247.30" class="lg" textLength="4.10" lengthAdjust="spacingAndGlyphs">7</text>
<text x="306.50" y="247.30" class="lg" textLength="12.8" lengthAdjust="spacingAndGlyphs">&#956;m</text>
<line x1="264.20" y1="254.70" x2="284.60" y2="254.70" stroke="#002eff" stroke-width="1.7"/>
<rect x="272.36" y="252.66" width="4.08" height="4.08" fill="#002eff"/>
<text x="286.60" y="258.30" class="lgl" textLength="5.1" lengthAdjust="spacingAndGlyphs">&#955;</text>
<text x="292.10" y="258.30" class="lgl" textLength="4.3" lengthAdjust="spacingAndGlyphs">=</text>
<text x="298.90" y="258.30" class="lg" textLength="10.26" lengthAdjust="spacingAndGlyphs">7.5</text>
<text x="312.66" y="258.30" class="lg" textLength="12.8" lengthAdjust="spacingAndGlyphs">&#956;m</text>
<line x1="264.20" y1="265.70" x2="284.60" y2="265.70" stroke="#5d00ff" stroke-width="1.7"/>
<path d="M272.55 263.06L272.55 268.34L277.04 265.70Z" fill="#5d00ff"/>
<text x="286.60" y="269.30" class="lgl" textLength="5.1" lengthAdjust="spacingAndGlyphs">&#955;</text>
<text x="292.10" y="269.30" class="lgl" textLength="4.3" lengthAdjust="spacingAndGlyphs">=</text>
<text x="298.90" y="269.30" class="lg" textLength="4.10" lengthAdjust="spacingAndGlyphs">8</text>
<text x="306.50" y="269.30" class="lg" textLength="12.8" lengthAdjust="spacingAndGlyphs">&#956;m</text>
<line x1="264.20" y1="276.70" x2="284.60" y2="276.70" stroke="#e800ff" stroke-width="1.7"/>
<path d="M276.25 274.06L276.25 279.34L271.76 276.70Z" fill="#e800ff"/>
<text x="286.60" y="280.30" class="lgl" textLength="5.1" lengthAdjust="spacingAndGlyphs">&#955;</text>
<text x="292.10" y="280.30" class="lgl" textLength="4.3" lengthAdjust="spacingAndGlyphs">=</text>
<text x="298.90" y="280.30" class="lg" textLength="10.26" lengthAdjust="spacingAndGlyphs">8.5</text>
<text x="312.66" y="280.30" class="lg" textLength="12.8" lengthAdjust="spacingAndGlyphs">&#956;m</text>
<line x1="264.20" y1="287.70" x2="284.60" y2="287.70" stroke="#ff008b" stroke-width="1.7"/>
<path d="M274.40 284.58L275.24 286.25L277.10 286.14L276.08 287.70L277.10 289.26L275.24 289.15L274.40 290.82L273.56 289.15L271.70 289.26L272.72 287.70L271.70 286.14L273.56 286.25Z" fill="#ff008b"/>
<text x="286.60" y="291.30" class="lgl" textLength="5.1" lengthAdjust="spacingAndGlyphs">&#955;</text>
<text x="292.10" y="291.30" class="lgl" textLength="4.3" lengthAdjust="spacingAndGlyphs">=</text>
<text x="298.90" y="291.30" class="lg" textLength="4.10" lengthAdjust="spacingAndGlyphs">9</text>
<text x="306.50" y="291.30" class="lg" textLength="12.8" lengthAdjust="spacingAndGlyphs">&#956;m</text>
<clipPath id="cc"><rect x="39.40" y="336.50" width="294.10" height="129.50"/></clipPath>
<line x1="76.16" y1="336.50" x2="76.16" y2="466.00" stroke="#e2e2e2" stroke-width="0.8"/>
<line x1="112.93" y1="336.50" x2="112.93" y2="466.00" stroke="#e2e2e2" stroke-width="0.8"/>
<line x1="149.69" y1="336.50" x2="149.69" y2="466.00" stroke="#e2e2e2" stroke-width="0.8"/>
<line x1="186.45" y1="336.50" x2="186.45" y2="466.00" stroke="#e2e2e2" stroke-width="0.8"/>
<line x1="223.21" y1="336.50" x2="223.21" y2="466.00" stroke="#e2e2e2" stroke-width="0.8"/>
<line x1="259.98" y1="336.50" x2="259.98" y2="466.00" stroke="#e2e2e2" stroke-width="0.8"/>
<line x1="296.74" y1="336.50" x2="296.74" y2="466.00" stroke="#e2e2e2" stroke-width="0.8"/>
<line x1="39.40" y1="350.89" x2="333.50" y2="350.89" stroke="#e2e2e2" stroke-width="0.8"/>
<line x1="39.40" y1="365.28" x2="333.50" y2="365.28" stroke="#c8c8c8" stroke-width="0.8" stroke-dasharray="0.8 1.3"/>
<line x1="39.40" y1="379.67" x2="333.50" y2="379.67" stroke="#c8c8c8" stroke-width="0.8" stroke-dasharray="0.8 1.3"/>
<line x1="39.40" y1="394.06" x2="333.50" y2="394.06" stroke="#c8c8c8" stroke-width="0.8" stroke-dasharray="0.8 1.3"/>
<line x1="39.40" y1="408.44" x2="333.50" y2="408.44" stroke="#c8c8c8" stroke-width="0.8" stroke-dasharray="0.8 1.3"/>
<line x1="39.40" y1="422.83" x2="333.50" y2="422.83" stroke="#e2e2e2" stroke-width="0.8"/>
<line x1="39.40" y1="437.22" x2="333.50" y2="437.22" stroke="#c8c8c8" stroke-width="0.8" stroke-dasharray="0.8 1.3"/>
<line x1="39.40" y1="451.61" x2="333.50" y2="451.61" stroke="#c8c8c8" stroke-width="0.8" stroke-dasharray="0.8 1.3"/>
<g clip-path="url(#cc)"><polyline points="24.69,364.08 24.93,364.50 26.06,366.50 27.19,368.50 28.32,370.50 29.45,372.50 30.58,374.50 31.71,376.50 32.84,378.50 33.97,380.50 35.10,382.50 36.23,384.50 37.36,386.50 38.49,388.50 39.62,390.50 40.74,392.50 41.87,394.50 43.00,396.50 44.13,398.50 45.26,400.50 46.39,402.50 47.52,404.50 48.65,406.50 49.78,408.50 50.91,410.50 52.04,412.50 53.17,414.50 54.30,416.50 55.43,418.50 56.56,420.50 57.69,422.50 58.81,424.50 59.94,426.50 61.07,428.50 62.20,430.50 63.33,432.50 64.46,434.50 65.59,436.50 66.72,438.50 67.85,440.50 68.98,442.50 70.11,444.50 71.24,446.50 72.37,448.50 73.50,450.50 74.63,452.50 75.75,454.50 76.88,456.50 78.01,458.50 79.14,460.50 80.27,462.50 81.40,464.50 82.53,466.50 83.66,468.50 84.79,470.50 85.92,472.50 87.05,474.50 88.18,476.50 89.31,478.50 90.44,480.50 91.57,482.50 92.70,484.50 259.98,666.00" stroke="#ff0000" stroke-width="2.0" fill="none" stroke-linejoin="round"/><circle cx="39.40" cy="390.12" r="1.08" fill="#ff0000"/><circle cx="44.30" cy="398.80" r="1.08" fill="#ff0000"/><circle cx="49.20" cy="407.48" r="1.08" fill="#ff0000"/><circle cx="54.11" cy="416.16" r="1.08" fill="#ff0000"/><circle cx="59.01" cy="424.84" r="1.08" fill="#ff0000"/><circle cx="63.91" cy="433.52" r="1.08" fill="#ff0000"/><circle cx="68.81" cy="442.20" r="1.08" fill="#ff0000"/><circle cx="73.71" cy="450.88" r="1.08" fill="#ff0000"/><circle cx="78.61" cy="459.56" r="1.08" fill="#ff0000"/><circle cx="83.52" cy="468.24" r="1.08" fill="#ff0000"/><polyline points="32.05,361.41 32.79,362.50 34.14,364.50 35.50,366.50 36.86,368.50 38.21,370.50 39.57,372.50 40.92,374.50 42.28,376.50 43.64,378.50 44.99,380.50 46.35,382.50 47.71,384.50 49.06,386.50 50.42,388.50 51.78,390.50 53.13,392.50 54.49,394.50 55.85,396.50 57.20,398.50 58.56,400.50 59.92,402.50 61.27,404.50 62.63,406.50 63.99,408.50 65.34,410.50 66.70,412.50 68.06,414.50 69.41,416.50 70.77,418.50 72.13,420.50 73.48,422.50 74.84,424.50 76.20,426.50 77.55,428.50 78.91,430.50 80.27,432.50 81.62,434.50 82.98,436.50 84.34,438.50 85.69,440.50 87.05,442.50 88.41,444.50 89.76,446.50 91.12,448.50 92.48,450.50 93.83,452.50 95.19,454.50 96.55,456.50 97.90,458.50 99.26,460.50 100.62,462.50 101.97,464.50 103.33,466.50 104.69,468.50 106.04,470.50 107.40,472.50 108.76,474.50 110.11,476.50 111.47,478.50 112.83,480.50 114.18,482.50 115.54,484.50 296.74,666.00" stroke="#ffaa00" stroke-width="2.0" fill="none" stroke-linejoin="round"/><circle cx="37.56" cy="369.54" r="1.97" fill="#ffaa00"/><circle cx="43.08" cy="377.67" r="1.97" fill="#ffaa00"/><circle cx="48.59" cy="385.80" r="1.97" fill="#ffaa00"/><circle cx="54.11" cy="393.93" r="1.97" fill="#ffaa00"/><circle cx="59.62" cy="402.06" r="1.97" fill="#ffaa00"/><circle cx="65.13" cy="410.19" r="1.97" fill="#ffaa00"/><circle cx="70.65" cy="418.32" r="1.97" fill="#ffaa00"/><circle cx="76.16" cy="426.45" r="1.97" fill="#ffaa00"/><circle cx="81.68" cy="434.58" r="1.97" fill="#ffaa00"/><circle cx="87.19" cy="442.71" r="1.97" fill="#ffaa00"/><circle cx="92.71" cy="450.84" r="1.97" fill="#ffaa00"/><circle cx="98.22" cy="458.97" r="1.97" fill="#ffaa00"/><circle cx="103.73" cy="467.10" r="1.97" fill="#ffaa00"/><polyline points="39.40,362.58 40.85,364.50 42.36,366.50 43.87,368.50 45.38,370.50 46.88,372.50 48.39,374.50 49.90,376.50 51.41,378.50 52.92,380.50 54.43,382.50 55.94,384.50 57.44,386.50 58.95,388.50 60.46,390.50 61.97,392.50 63.48,394.50 64.99,396.50 66.50,398.50 68.01,400.50 69.51,402.50 71.02,404.50 72.53,406.50 74.04,408.50 75.55,410.50 77.06,412.50 78.57,414.50 80.07,416.50 81.58,418.50 83.09,420.50 84.60,422.50 86.11,424.50 87.62,426.50 89.13,428.50 90.63,430.50 92.14,432.50 93.65,434.50 95.16,436.50 96.67,438.50 98.18,440.50 99.69,442.50 101.20,444.50 102.70,446.50 104.21,448.50 105.72,450.50 107.23,452.50 108.74,454.50 110.25,456.50 111.76,458.50 113.26,460.50 114.77,462.50 116.28,464.50 117.79,466.50 119.30,468.50 120.81,470.50 122.32,472.50 123.82,474.50 125.33,476.50 126.84,478.50 128.35,480.50 129.86,482.50 131.37,484.50 333.50,666.00" stroke="#aaff00" stroke-width="2.0" fill="none" stroke-linejoin="round"/><path d="M38.08 361.26L40.72 363.90M38.08 363.90L40.72 361.26" stroke="#aaff00" stroke-width="0.9" fill="none"/><path d="M44.21 369.38L46.85 372.02M44.21 372.02L46.85 369.38" stroke="#aaff00" stroke-width="0.9" fill="none"/><path d="M50.33 377.50L52.97 380.14M50.33 380.14L52.97 377.50" stroke="#aaff00" stroke-width="0.9" fill="none"/><path d="M56.46 385.63L59.10 388.27M56.46 388.27L59.10 385.63" stroke="#aaff00" stroke-width="0.9" fill="none"/><path d="M62.59 393.75L65.23 396.39M62.59 396.39L65.23 393.75" stroke="#aaff00" stroke-width="0.9" fill="none"/><path d="M68.72 401.87L71.36 404.51M68.72 404.51L71.36 401.87" stroke="#aaff00" stroke-width="0.9" fill="none"/><path d="M74.84 409.99L77.48 412.63M74.84 412.63L77.48 409.99" stroke="#aaff00" stroke-width="0.9" fill="none"/><path d="M80.97 418.12L83.61 420.76M80.97 420.76L83.61 418.12" stroke="#aaff00" stroke-width="0.9" fill="none"/><path d="M87.10 426.24L89.74 428.88M87.10 428.88L89.74 426.24" stroke="#aaff00" stroke-width="0.9" fill="none"/><path d="M93.22 434.36L95.86 437.00M93.22 437.00L95.86 434.36" stroke="#aaff00" stroke-width="0.9" fill="none"/><path d="M99.35 442.48L101.99 445.12M99.35 445.12L101.99 442.48" stroke="#aaff00" stroke-width="0.9" fill="none"/><path d="M105.48 450.61L108.12 453.25M105.48 453.25L108.12 450.61" stroke="#aaff00" stroke-width="0.9" fill="none"/><path d="M111.61 458.73L114.25 461.37M111.61 461.37L114.25 458.73" stroke="#aaff00" stroke-width="0.9" fill="none"/><path d="M117.73 466.85L120.37 469.49M117.73 469.49L120.37 466.85" stroke="#aaff00" stroke-width="0.9" fill="none"/><polyline points="46.75,359.20 47.89,360.50 49.63,362.50 51.38,364.50 53.13,366.50 54.87,368.50 56.62,370.50 58.36,372.50 60.11,374.50 61.86,376.50 63.60,378.50 65.35,380.50 67.09,382.50 68.84,384.50 70.59,386.50 72.33,388.50 74.08,390.50 75.82,392.50 77.57,394.50 79.31,396.50 81.06,398.50 82.81,400.50 84.55,402.50 86.30,404.50 88.04,406.50 89.79,408.50 91.54,410.50 93.28,412.50 95.03,414.50 96.77,416.50 98.52,418.50 100.27,420.50 102.01,422.50 103.76,424.50 105.50,426.50 107.25,428.50 109.00,430.50 110.74,432.50 112.49,434.50 114.23,436.50 115.98,438.50 117.73,440.50 119.47,442.50 121.22,444.50 122.96,446.50 124.71,448.50 126.46,450.50 128.20,452.50 129.95,454.50 131.69,456.50 133.44,458.50 135.19,460.50 136.93,462.50 138.68,464.50 140.42,466.50 142.17,468.50 143.92,470.50 145.66,472.50 147.41,474.50 149.15,476.50 150.90,478.50 152.65,480.50 154.39,482.50 156.14,484.50 370.26,666.00" stroke="#00ff00" stroke-width="2.0" fill="none" stroke-linejoin="round"/><path d="M45.07 359.20L48.43 359.20M46.75 357.52L46.75 360.88" stroke="#00ff00" stroke-width="0.9" fill="none"/><path d="M51.81 366.92L55.17 366.92M53.49 365.24L53.49 368.60" stroke="#00ff00" stroke-width="0.9" fill="none"/><path d="M58.55 374.64L61.91 374.64M60.23 372.96L60.23 376.32" stroke="#00ff00" stroke-width="0.9" fill="none"/><path d="M65.29 382.36L68.65 382.36M66.97 380.68L66.97 384.04" stroke="#00ff00" stroke-width="0.9" fill="none"/><path d="M72.03 390.08L75.39 390.08M73.71 388.40L73.71 391.76" stroke="#00ff00" stroke-width="0.9" fill="none"/><path d="M78.77 397.80L82.13 397.80M80.45 396.12L80.45 399.48" stroke="#00ff00" stroke-width="0.9" fill="none"/><path d="M85.51 405.52L88.87 405.52M87.19 403.84L87.19 407.20" stroke="#00ff00" stroke-width="0.9" fill="none"/><path d="M92.25 413.24L95.61 413.24M93.93 411.56L93.93 414.92" stroke="#00ff00" stroke-width="0.9" fill="none"/><path d="M98.99 420.96L102.35 420.96M100.67 419.28L100.67 422.64" stroke="#00ff00" stroke-width="0.9" fill="none"/><path d="M105.73 428.68L109.09 428.68M107.41 427.00L107.41 430.36" stroke="#00ff00" stroke-width="0.9" fill="none"/><path d="M112.47 436.40L115.83 436.40M114.15 434.72L114.15 438.08" stroke="#00ff00" stroke-width="0.9" fill="none"/><path d="M119.21 444.12L122.57 444.12M120.89 442.44L120.89 445.80" stroke="#00ff00" stroke-width="0.9" fill="none"/><path d="M125.95 451.84L129.31 451.84M127.63 450.16L127.63 453.52" stroke="#00ff00" stroke-width="0.9" fill="none"/><path d="M132.69 459.56L136.05 459.56M134.37 457.88L134.37 461.24" stroke="#00ff00" stroke-width="0.9" fill="none"/><path d="M139.43 467.28L142.79 467.28M141.11 465.60L141.11 468.96" stroke="#00ff00" stroke-width="0.9" fill="none"/><polyline points="54.11,358.05 54.54,358.50 56.46,360.50 58.38,362.50 60.30,364.50 62.22,366.50 64.14,368.50 66.06,370.50 67.98,372.50 69.90,374.50 71.83,376.50 73.75,378.50 75.67,380.50 77.59,382.50 79.51,384.50 81.43,386.50 83.35,388.50 85.27,390.50 87.19,392.50 89.11,394.50 91.03,396.50 92.95,398.50 94.87,400.50 96.79,402.50 98.71,404.50 100.63,406.50 102.55,408.50 104.47,410.50 106.39,412.50 108.31,414.50 110.23,416.50 112.15,418.50 114.07,420.50 115.99,422.50 117.92,424.50 119.84,426.50 121.76,428.50 123.68,430.50 125.60,432.50 127.52,434.50 129.44,436.50 131.36,438.50 133.28,440.50 135.20,442.50 137.12,444.50 139.04,446.50 140.96,448.50 142.88,450.50 144.80,452.50 146.72,454.50 148.64,456.50 150.56,458.50 152.48,460.50 154.40,462.50 156.32,464.50 158.24,466.50 160.16,468.50 162.08,470.50 164.00,472.50 165.93,474.50 167.85,476.50 169.77,478.50 171.69,480.50 173.61,482.50 175.53,484.50 407.03,666.00" stroke="#00ffaa" stroke-width="2.0" fill="none" stroke-linejoin="round"/><path d="M51.47 356.20L56.75 356.20L54.11 360.69Z" fill="#00ffaa"/><path d="M58.82 363.85L64.10 363.85L61.46 368.34Z" fill="#00ffaa"/><path d="M66.17 371.51L71.45 371.51L68.81 376.00Z" fill="#00ffaa"/><path d="M73.52 379.17L78.80 379.17L76.16 383.66Z" fill="#00ffaa"/><path d="M80.88 386.83L86.16 386.83L83.52 391.31Z" fill="#00ffaa"/><path d="M88.23 394.48L93.51 394.48L90.87 398.97Z" fill="#00ffaa"/><path d="M95.58 402.14L100.86 402.14L98.22 406.63Z" fill="#00ffaa"/><path d="M102.93 409.80L108.21 409.80L105.57 414.29Z" fill="#00ffaa"/><path d="M110.29 417.46L115.57 417.46L112.93 421.94Z" fill="#00ffaa"/><path d="M117.64 425.11L122.92 425.11L120.28 429.60Z" fill="#00ffaa"/><path d="M124.99 432.77L130.27 432.77L127.63 437.26Z" fill="#00ffaa"/><path d="M132.34 440.43L137.62 440.43L134.98 444.91Z" fill="#00ffaa"/><path d="M139.70 448.08L144.97 448.08L142.34 452.57Z" fill="#00ffaa"/><path d="M147.05 455.74L152.33 455.74L149.69 460.23Z" fill="#00ffaa"/><path d="M154.40 463.40L159.68 463.40L157.04 467.89Z" fill="#00ffaa"/><polyline points="61.46,350.65 63.57,352.50 65.86,354.50 68.15,356.50 70.43,358.50 72.72,360.50 75.01,362.50 77.30,364.50 79.58,366.50 81.87,368.50 84.16,370.50 86.45,372.50 88.73,374.50 91.02,376.50 93.31,378.50 95.60,380.50 97.88,382.50 100.17,384.50 102.46,386.50 104.75,388.50 107.03,390.50 109.32,392.50 111.61,394.50 113.90,396.50 116.19,398.50 118.47,400.50 120.76,402.50 123.05,404.50 125.34,406.50 127.62,408.50 129.91,410.50 132.20,412.50 134.49,414.50 136.77,416.50 139.06,418.50 141.35,420.50 143.64,422.50 145.92,424.50 148.21,426.50 150.50,428.50 152.79,430.50 155.07,432.50 157.36,434.50 159.65,436.50 161.94,438.50 164.22,440.50 166.51,442.50 168.80,444.50 171.09,446.50 173.37,448.50 175.66,450.50 177.95,452.50 180.24,454.50 182.52,456.50 184.81,458.50 187.10,460.50 189.39,462.50 191.67,464.50 193.96,466.50 196.25,468.50 198.54,470.50 200.83,472.50 203.11,474.50 205.40,476.50 207.69,478.50 209.98,480.50 212.26,482.50 214.55,484.50 443.79,666.00" stroke="#00aaff" stroke-width="2.0" fill="none" stroke-linejoin="round"/><path d="M61.46 348.01L63.74 350.65L61.46 353.29L59.18 350.65Z" fill="#00aaff"/><path d="M69.42 354.98L71.70 357.62L69.42 360.26L67.14 357.62Z" fill="#00aaff"/><path d="M77.39 361.94L79.67 364.58L77.39 367.22L75.11 364.58Z" fill="#00aaff"/><path d="M85.35 368.90L87.63 371.54L85.35 374.18L83.07 371.54Z" fill="#00aaff"/><path d="M93.32 375.87L95.60 378.51L93.32 381.15L91.04 378.51Z" fill="#00aaff"/><path d="M101.28 382.83L103.56 385.47L101.28 388.11L99.00 385.47Z" fill="#00aaff"/><path d="M109.25 389.80L111.53 392.44L109.25 395.08L106.97 392.44Z" fill="#00aaff"/><path d="M117.21 396.76L119.49 399.40L117.21 402.04L114.93 399.40Z" fill="#00aaff"/><path d="M125.18 403.72L127.46 406.36L125.18 409.00L122.90 406.36Z" fill="#00aaff"/><path d="M133.14 410.69L135.42 413.33L133.14 415.97L130.86 413.33Z" fill="#00aaff"/><path d="M141.11 417.65L143.39 420.29L141.11 422.93L138.83 420.29Z" fill="#00aaff"/><path d="M149.07 424.62L151.35 427.26L149.07 429.90L146.79 427.26Z" fill="#00aaff"/><path d="M157.04 431.58L159.32 434.22L157.04 436.86L154.76 434.22Z" fill="#00aaff"/><path d="M165.01 438.54L167.29 441.18L165.01 443.82L162.73 441.18Z" fill="#00aaff"/><path d="M172.97 445.51L175.25 448.15L172.97 450.79L170.69 448.15Z" fill="#00aaff"/><path d="M180.94 452.47L183.22 455.11L180.94 457.75L178.66 455.11Z" fill="#00aaff"/><path d="M188.90 459.43L191.18 462.07L188.90 464.71L186.62 462.07Z" fill="#00aaff"/><path d="M196.87 466.40L199.15 469.04L196.87 471.68L194.59 469.04Z" fill="#00aaff"/><polyline points="68.81,342.85 71.06,344.50 73.79,346.50 76.52,348.50 79.24,350.50 81.97,352.50 84.70,354.50 87.43,356.50 90.16,358.50 92.88,360.50 95.61,362.50 98.34,364.50 101.07,366.50 103.79,368.50 106.52,370.50 109.25,372.50 111.98,374.50 114.71,376.50 117.43,378.50 120.16,380.50 122.89,382.50 125.62,384.50 128.34,386.50 131.07,388.50 133.80,390.50 136.53,392.50 139.26,394.50 141.98,396.50 144.71,398.50 147.44,400.50 150.17,402.50 152.89,404.50 155.62,406.50 158.35,408.50 161.08,410.50 163.80,412.50 166.53,414.50 169.26,416.50 171.99,418.50 174.72,420.50 177.44,422.50 180.17,424.50 182.90,426.50 185.63,428.50 188.35,430.50 191.08,432.50 193.81,434.50 196.54,436.50 199.27,438.50 201.99,440.50 204.72,442.50 207.45,444.50 210.18,446.50 212.90,448.50 215.63,450.50 218.36,452.50 221.09,454.50 223.82,456.50 226.54,458.50 229.27,460.50 232.00,462.50 234.73,464.50 237.45,466.50 240.18,468.50 242.91,470.50 245.64,472.50 248.37,474.50 251.09,476.50 253.82,478.50 256.55,480.50 259.28,482.50 262.00,484.50 480.55,644.74" stroke="#0000ff" stroke-width="2.0" fill="none" stroke-linejoin="round"/><path d="M66.17 344.70L71.45 344.70L68.81 340.21Z" fill="#0000ff"/><path d="M74.75 350.99L80.03 350.99L77.39 346.50Z" fill="#0000ff"/><path d="M83.33 357.28L88.61 357.28L85.97 352.79Z" fill="#0000ff"/><path d="M91.90 363.57L97.18 363.57L94.54 359.08Z" fill="#0000ff"/><path d="M100.48 369.85L105.76 369.85L103.12 365.37Z" fill="#0000ff"/><path d="M109.06 376.14L114.34 376.14L111.70 371.66Z" fill="#0000ff"/><path d="M117.64 382.43L122.92 382.43L120.28 377.95Z" fill="#0000ff"/><path d="M126.22 388.72L131.50 388.72L128.86 384.23Z" fill="#0000ff"/><path d="M134.79 395.01L140.07 395.01L137.43 390.52Z" fill="#0000ff"/><path d="M143.37 401.30L148.65 401.30L146.01 396.81Z" fill="#0000ff"/><path d="M151.95 407.59L157.23 407.59L154.59 403.10Z" fill="#0000ff"/><path d="M160.53 413.88L165.81 413.88L163.17 409.39Z" fill="#0000ff"/><path d="M169.11 420.17L174.39 420.17L171.75 415.68Z" fill="#0000ff"/><path d="M177.68 426.46L182.96 426.46L180.32 421.97Z" fill="#0000ff"/><path d="M186.26 432.75L191.54 432.75L188.90 428.26Z" fill="#0000ff"/><path d="M194.84 439.04L200.12 439.04L197.48 434.55Z" fill="#0000ff"/><path d="M203.42 445.33L208.70 445.33L206.06 440.84Z" fill="#0000ff"/><path d="M211.99 451.62L217.27 451.62L214.63 447.13Z" fill="#0000ff"/><path d="M220.57 457.91L225.85 457.91L223.21 453.42Z" fill="#0000ff"/><path d="M229.15 464.20L234.43 464.20L231.79 459.71Z" fill="#0000ff"/><path d="M237.73 470.48L243.01 470.48L240.37 466.00Z" fill="#0000ff"/><polyline points="76.16,335.76 77.34,336.50 80.52,338.50 83.70,340.50 86.89,342.50 90.07,344.50 93.26,346.50 96.44,348.50 99.62,350.50 102.81,352.50 105.99,354.50 109.17,356.50 112.36,358.50 115.54,360.50 118.72,362.50 121.91,364.50 125.09,366.50 128.28,368.50 131.46,370.50 134.64,372.50 137.83,374.50 141.01,376.50 144.19,378.50 147.38,380.50 150.56,382.50 153.74,384.50 156.93,386.50 160.11,388.50 163.30,390.50 166.48,392.50 169.66,394.50 172.85,396.50 176.03,398.50 179.21,400.50 182.40,402.50 185.58,404.50 188.76,406.50 191.95,408.50 195.13,410.50 198.32,412.50 201.50,414.50 204.68,416.50 207.87,418.50 211.05,420.50 214.23,422.50 217.42,424.50 220.60,426.50 223.78,428.50 226.97,430.50 230.15,432.50 233.34,434.50 236.52,436.50 239.70,438.50 242.89,440.50 246.07,442.50 249.25,444.50 252.44,446.50 255.62,448.50 258.80,450.50 261.99,452.50 265.17,454.50 268.36,456.50 271.54,458.50 274.72,460.50 277.91,462.50 281.09,464.50 284.27,466.50 287.46,468.50 290.64,470.50 293.82,472.50 297.01,474.50 300.19,476.50 303.38,478.50 306.56,480.50 309.74,482.50 312.93,484.50 517.31,612.90" stroke="#aa00ff" stroke-width="2.0" fill="none" stroke-linejoin="round"/><rect x="74.12" y="333.72" width="4.08" height="4.08" fill="#aa00ff"/><rect x="83.31" y="339.50" width="4.08" height="4.08" fill="#aa00ff"/><rect x="92.50" y="345.27" width="4.08" height="4.08" fill="#aa00ff"/><rect x="101.69" y="351.04" width="4.08" height="4.08" fill="#aa00ff"/><rect x="110.89" y="356.82" width="4.08" height="4.08" fill="#aa00ff"/><rect x="120.08" y="362.59" width="4.08" height="4.08" fill="#aa00ff"/><rect x="129.27" y="368.36" width="4.08" height="4.08" fill="#aa00ff"/><rect x="138.46" y="374.14" width="4.08" height="4.08" fill="#aa00ff"/><rect x="147.65" y="379.91" width="4.08" height="4.08" fill="#aa00ff"/><rect x="156.84" y="385.69" width="4.08" height="4.08" fill="#aa00ff"/><rect x="166.03" y="391.46" width="4.08" height="4.08" fill="#aa00ff"/><rect x="175.22" y="397.23" width="4.08" height="4.08" fill="#aa00ff"/><rect x="184.41" y="403.01" width="4.08" height="4.08" fill="#aa00ff"/><rect x="193.60" y="408.78" width="4.08" height="4.08" fill="#aa00ff"/><rect x="202.79" y="414.55" width="4.08" height="4.08" fill="#aa00ff"/><rect x="211.98" y="420.33" width="4.08" height="4.08" fill="#aa00ff"/><rect x="221.17" y="426.10" width="4.08" height="4.08" fill="#aa00ff"/><rect x="230.36" y="431.87" width="4.08" height="4.08" fill="#aa00ff"/><rect x="239.55" y="437.65" width="4.08" height="4.08" fill="#aa00ff"/><rect x="248.74" y="443.42" width="4.08" height="4.08" fill="#aa00ff"/><rect x="257.94" y="449.20" width="4.08" height="4.08" fill="#aa00ff"/><rect x="267.13" y="454.97" width="4.08" height="4.08" fill="#aa00ff"/><rect x="276.32" y="460.74" width="4.08" height="4.08" fill="#aa00ff"/><rect x="285.51" y="466.52" width="4.08" height="4.08" fill="#aa00ff"/><polyline points="83.52,330.28 83.91,330.50 87.56,332.50 91.21,334.50 94.86,336.50 98.52,338.50 102.17,340.50 105.82,342.50 109.47,344.50 113.12,346.50 116.77,348.50 120.42,350.50 124.07,352.50 127.72,354.50 131.37,356.50 135.02,358.50 138.68,360.50 142.33,362.50 145.98,364.50 149.63,366.50 153.28,368.50 156.93,370.50 160.58,372.50 164.23,374.50 167.88,376.50 171.53,378.50 175.18,380.50 178.83,382.50 182.49,384.50 186.14,386.50 189.79,388.50 193.44,390.50 197.09,392.50 200.74,394.50 204.39,396.50 208.04,398.50 211.69,400.50 215.34,402.50 218.99,404.50 222.65,406.50 226.30,408.50 229.95,410.50 233.60,412.50 237.25,414.50 240.90,416.50 244.55,418.50 248.20,420.50 251.85,422.50 255.50,424.50 259.15,426.50 262.81,428.50 266.46,430.50 270.11,432.50 273.76,434.50 277.41,436.50 281.06,438.50 284.71,440.50 288.36,442.50 292.01,444.50 295.66,446.50 299.31,448.50 302.96,450.50 306.62,452.50 310.27,454.50 313.92,456.50 317.57,458.50 321.22,460.50 324.87,462.50 328.52,464.50 332.17,466.50 335.82,468.50 339.47,470.50 343.12,472.50 346.78,474.50 350.43,476.50 354.08,478.50 357.73,480.50 361.38,482.50 365.03,484.50 554.08,588.06" stroke="#ff00aa" stroke-width="2.0" fill="none" stroke-linejoin="round"/><path d="M91.47 333.01L91.47 338.29L95.96 335.65Z" fill="#ff00aa"/><path d="M101.27 338.38L101.27 343.66L105.76 341.02Z" fill="#ff00aa"/><path d="M111.08 343.75L111.08 349.03L115.57 346.39Z" fill="#ff00aa"/><path d="M120.88 349.12L120.88 354.40L125.37 351.76Z" fill="#ff00aa"/><path d="M130.68 354.49L130.68 359.77L135.17 357.13Z" fill="#ff00aa"/><path d="M140.49 359.86L140.49 365.14L144.97 362.50Z" fill="#ff00aa"/><path d="M150.29 365.24L150.29 370.52L154.78 367.88Z" fill="#ff00aa"/><path d="M160.09 370.61L160.09 375.89L164.58 373.25Z" fill="#ff00aa"/><path d="M169.90 375.98L169.90 381.26L174.39 378.62Z" fill="#ff00aa"/><path d="M179.70 381.35L179.70 386.63L184.19 383.99Z" fill="#ff00aa"/><path d="M189.50 386.72L189.50 392.00L193.99 389.36Z" fill="#ff00aa"/><path d="M199.31 392.09L199.31 397.37L203.80 394.73Z" fill="#ff00aa"/><path d="M209.11 397.46L209.11 402.74L213.60 400.10Z" fill="#ff00aa"/><path d="M218.91 402.83L218.91 408.11L223.40 405.47Z" fill="#ff00aa"/><path d="M228.72 408.20L228.72 413.48L233.21 410.84Z" fill="#ff00aa"/><path d="M238.52 413.57L238.52 418.85L243.01 416.21Z" fill="#ff00aa"/><path d="M248.32 418.94L248.32 424.22L252.81 421.58Z" fill="#ff00aa"/><path d="M258.13 424.31L258.13 429.59L262.62 426.95Z" fill="#ff00aa"/><path d="M267.93 429.68L267.93 434.96L272.42 432.32Z" fill="#ff00aa"/><path d="M277.73 435.05L277.73 440.33L282.22 437.69Z" fill="#ff00aa"/><path d="M287.54 440.42L287.54 445.70L292.03 443.06Z" fill="#ff00aa"/><path d="M297.34 445.79L297.34 451.07L301.83 448.43Z" fill="#ff00aa"/><path d="M307.14 451.16L307.14 456.44L311.63 453.80Z" fill="#ff00aa"/><path d="M316.95 456.53L316.95 461.81L321.44 459.17Z" fill="#ff00aa"/><path d="M326.75 461.90L326.75 467.18L331.24 464.54Z" fill="#ff00aa"/></g>
<rect x="39.40" y="336.50" width="294.10" height="129.50" fill="none" stroke="#404040" stroke-width="1"/>
<path d="M39.40 466.00v-2.8M39.40 336.50v2.8M76.16 466.00v-2.8M76.16 336.50v2.8M112.93 466.00v-2.8M112.93 336.50v2.8M149.69 466.00v-2.8M149.69 336.50v2.8M186.45 466.00v-2.8M186.45 336.50v2.8M223.21 466.00v-2.8M223.21 336.50v2.8M259.98 466.00v-2.8M259.98 336.50v2.8M296.74 466.00v-2.8M296.74 336.50v2.8M333.50 466.00v-2.8M333.50 336.50v2.8M39.40 350.89h2.80M333.50 350.89h-2.80M39.40 365.28h1.80M333.50 365.28h-1.80M39.40 379.67h1.80M333.50 379.67h-1.80M39.40 394.06h1.80M333.50 394.06h-1.80M39.40 408.44h1.80M333.50 408.44h-1.80M39.40 422.83h2.80M333.50 422.83h-2.80M39.40 437.22h1.80M333.50 437.22h-1.80M39.40 451.61h1.80M333.50 451.61h-1.80" stroke="#404040" stroke-width="0.9" fill="none"/>
<text x="39.40" y="480.70" text-anchor="middle" class="tk">40</text>
<text x="76.16" y="480.70" text-anchor="middle" class="tk">60</text>
<text x="112.93" y="480.70" text-anchor="middle" class="tk">80</text>
<text x="149.69" y="480.70" text-anchor="middle" class="tk">100</text>
<text x="186.45" y="480.70" text-anchor="middle" class="tk">120</text>
<text x="223.21" y="480.70" text-anchor="middle" class="tk">140</text>
<text x="259.98" y="480.70" text-anchor="middle" class="tk">160</text>
<text x="296.74" y="480.70" text-anchor="middle" class="tk">180</text>
<text x="333.50" y="480.70" text-anchor="middle" class="tk">200</text>
<text x="18.50" y="356.79" class="tk">10</text><text x="30.90" y="351.89" class="sup">0</text>
<text x="15.40" y="428.73" class="tk">10</text><text x="27.60" y="423.83" class="sup">-5</text>
<rect x="264.50" y="342.50" width="64.00" height="100.00" fill="#fff"/>
<path d="M264.00 342.50H327.50M264.50 342.50V442.50M264.00 442.50H327.50" stroke="#808080" stroke-width="1" fill="none"/>
<line x1="327.90" y1="342.00" x2="327.90" y2="443.00" stroke="#c4c4c4" stroke-width="2"/>
<line x1="266.00" y1="348.60" x2="286.50" y2="348.60" stroke="#ff0000" stroke-width="1.7"/>
<circle cx="276.25" cy="348.60" r="1.08" fill="#ff0000"/>
<text x="288.70" y="352.20" class="lgl" textLength="5.1" lengthAdjust="spacingAndGlyphs">&#955;</text>
<text x="294.20" y="352.20" class="lgl" textLength="4.3" lengthAdjust="spacingAndGlyphs">=</text>
<text x="301.00" y="352.20" class="lg" textLength="4.10" lengthAdjust="spacingAndGlyphs">8</text>
<text x="308.60" y="352.20" class="lg" textLength="12.8" lengthAdjust="spacingAndGlyphs">&#956;m</text>
<line x1="266.00" y1="359.58" x2="286.50" y2="359.58" stroke="#ffaa00" stroke-width="1.7"/>
<circle cx="276.25" cy="359.58" r="1.97" fill="#ffaa00"/>
<text x="288.70" y="363.18" class="lgl" textLength="5.1" lengthAdjust="spacingAndGlyphs">&#955;</text>
<text x="294.20" y="363.18" class="lgl" textLength="4.3" lengthAdjust="spacingAndGlyphs">=</text>
<text x="301.00" y="363.18" class="lg" textLength="4.10" lengthAdjust="spacingAndGlyphs">9</text>
<text x="308.60" y="363.18" class="lg" textLength="12.8" lengthAdjust="spacingAndGlyphs">&#956;m</text>
<line x1="266.00" y1="370.56" x2="286.50" y2="370.56" stroke="#aaff00" stroke-width="1.7"/>
<path d="M274.93 369.24L277.57 371.88M274.93 371.88L277.57 369.24" stroke="#aaff00" stroke-width="0.9" fill="none"/>
<text x="288.70" y="374.16" class="lgl" textLength="5.1" lengthAdjust="spacingAndGlyphs">&#955;</text>
<text x="294.20" y="374.16" class="lgl" textLength="4.3" lengthAdjust="spacingAndGlyphs">=</text>
<text x="301.00" y="374.16" class="lg" textLength="8.20" lengthAdjust="spacingAndGlyphs">10</text>
<text x="312.70" y="374.16" class="lg" textLength="12.8" lengthAdjust="spacingAndGlyphs">&#956;m</text>
<line x1="266.00" y1="381.54" x2="286.50" y2="381.54" stroke="#00ff00" stroke-width="1.7"/>
<path d="M274.57 381.54L277.93 381.54M276.25 379.86L276.25 383.22" stroke="#00ff00" stroke-width="0.9" fill="none"/>
<text x="288.70" y="385.14" class="lgl" textLength="5.1" lengthAdjust="spacingAndGlyphs">&#955;</text>
<text x="294.20" y="385.14" class="lgl" textLength="4.3" lengthAdjust="spacingAndGlyphs">=</text>
<text x="301.00" y="385.14" class="lg" textLength="8.20" lengthAdjust="spacingAndGlyphs">11</text>
<text x="312.70" y="385.14" class="lg" textLength="12.8" lengthAdjust="spacingAndGlyphs">&#956;m</text>
<line x1="266.00" y1="392.52" x2="286.50" y2="392.52" stroke="#00ffaa" stroke-width="1.7"/>
<path d="M273.61 390.67L278.89 390.67L276.25 395.16Z" fill="#00ffaa"/>
<text x="288.70" y="396.12" class="lgl" textLength="5.1" lengthAdjust="spacingAndGlyphs">&#955;</text>
<text x="294.20" y="396.12" class="lgl" textLength="4.3" lengthAdjust="spacingAndGlyphs">=</text>
<text x="301.00" y="396.12" class="lg" textLength="8.20" lengthAdjust="spacingAndGlyphs">12</text>
<text x="312.70" y="396.12" class="lg" textLength="12.8" lengthAdjust="spacingAndGlyphs">&#956;m</text>
<line x1="266.00" y1="403.50" x2="286.50" y2="403.50" stroke="#00aaff" stroke-width="1.7"/>
<path d="M276.25 400.86L278.53 403.50L276.25 406.14L273.97 403.50Z" fill="#00aaff"/>
<text x="288.70" y="407.10" class="lgl" textLength="5.1" lengthAdjust="spacingAndGlyphs">&#955;</text>
<text x="294.20" y="407.10" class="lgl" textLength="4.3" lengthAdjust="spacingAndGlyphs">=</text>
<text x="301.00" y="407.10" class="lg" textLength="8.20" lengthAdjust="spacingAndGlyphs">13</text>
<text x="312.70" y="407.10" class="lg" textLength="12.8" lengthAdjust="spacingAndGlyphs">&#956;m</text>
<line x1="266.00" y1="414.48" x2="286.50" y2="414.48" stroke="#0000ff" stroke-width="1.7"/>
<path d="M273.61 416.33L278.89 416.33L276.25 411.84Z" fill="#0000ff"/>
<text x="288.70" y="418.08" class="lgl" textLength="5.1" lengthAdjust="spacingAndGlyphs">&#955;</text>
<text x="294.20" y="418.08" class="lgl" textLength="4.3" lengthAdjust="spacingAndGlyphs">=</text>
<text x="301.00" y="418.08" class="lg" textLength="8.20" lengthAdjust="spacingAndGlyphs">14</text>
<text x="312.70" y="418.08" class="lg" textLength="12.8" lengthAdjust="spacingAndGlyphs">&#956;m</text>
<line x1="266.00" y1="425.46" x2="286.50" y2="425.46" stroke="#aa00ff" stroke-width="1.7"/>
<rect x="274.21" y="423.42" width="4.08" height="4.08" fill="#aa00ff"/>
<text x="288.70" y="429.06" class="lgl" textLength="5.1" lengthAdjust="spacingAndGlyphs">&#955;</text>
<text x="294.20" y="429.06" class="lgl" textLength="4.3" lengthAdjust="spacingAndGlyphs">=</text>
<text x="301.00" y="429.06" class="lg" textLength="8.20" lengthAdjust="spacingAndGlyphs">15</text>
<text x="312.70" y="429.06" class="lg" textLength="12.8" lengthAdjust="spacingAndGlyphs">&#956;m</text>
<line x1="266.00" y1="436.44" x2="286.50" y2="436.44" stroke="#ff00aa" stroke-width="1.7"/>
<path d="M274.40 433.80L274.40 439.08L278.89 436.44Z" fill="#ff00aa"/>
<text x="288.70" y="440.04" class="lgl" textLength="5.1" lengthAdjust="spacingAndGlyphs">&#955;</text>
<text x="294.20" y="440.04" class="lgl" textLength="4.3" lengthAdjust="spacingAndGlyphs">=</text>
<text x="301.00" y="440.04" class="lg" textLength="8.20" lengthAdjust="spacingAndGlyphs">16</text>
<text x="312.70" y="440.04" class="lg" textLength="12.8" lengthAdjust="spacingAndGlyphs">&#956;m</text>
<text x="186.60" y="161.90" text-anchor="middle" class="al">Radius(<tspan font-style="italic">&#956;m</tspan>)</text>
<text x="39.80" y="157.80" class="pl">(a)</text>
<text transform="translate(11.0 122.90) rotate(-90)" class="al" textLength="101.6" lengthAdjust="spacingAndGlyphs">Bend Loss (dB/90</text>
<text transform="translate(4.3 18.80) rotate(-90)" class="al" style="font-size:8px">o</text>
<text transform="translate(11.0 12.10) rotate(-90)" class="al">)</text>
<text x="186.60" y="325.90" text-anchor="middle" class="al">Radius(<tspan font-style="italic">&#956;m</tspan>)</text>
<text x="39.80" y="324.00" class="pl">(b)</text>
<text transform="translate(11.0 286.40) rotate(-90)" class="al" textLength="101.6" lengthAdjust="spacingAndGlyphs">Bend Loss (dB/90</text>
<text transform="translate(4.3 182.30) rotate(-90)" class="al" style="font-size:8px">o</text>
<text transform="translate(11.0 175.60) rotate(-90)" class="al">)</text>
<text x="186.60" y="496.50" text-anchor="middle" class="al">Radius(<tspan font-style="italic">&#956;m</tspan>)</text>
<text x="39.80" y="490.50" class="pl">(c)</text>
<text transform="translate(11.0 457.40) rotate(-90)" class="al" textLength="101.6" lengthAdjust="spacingAndGlyphs">Bend Loss (dB/90</text>
<text transform="translate(4.3 353.30) rotate(-90)" class="al" style="font-size:8px">o</text>
<text transform="translate(11.0 346.60) rotate(-90)" class="al">)</text>
</svg>
</body></html>
